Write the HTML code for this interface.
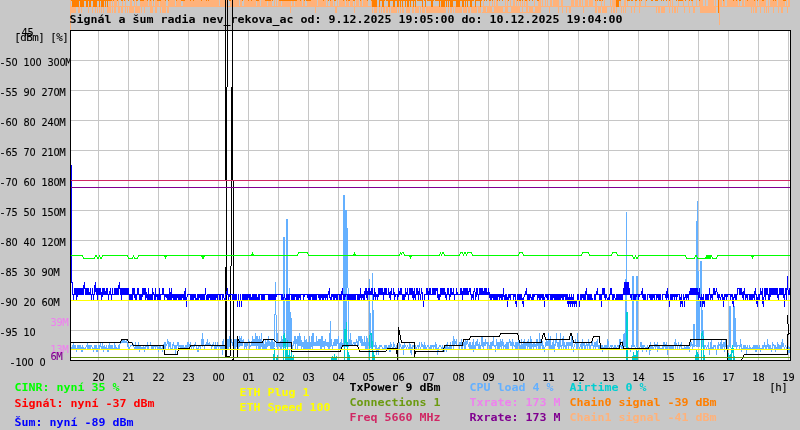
<!DOCTYPE html>
<html lang="cs">
<head>
<meta charset="utf-8">
<title>Signál a šum radia nev_rekova_ac</title>
<style>
html,body{margin:0;padding:0;background:#c8c8c8;overflow:hidden}
svg{display:block;will-change:transform}
text{font-family:"DejaVu Sans Mono","Liberation Mono",monospace;white-space:pre}
text.b{font-weight:bold;font-size:11px}
text.s{font-size:10.8px;stroke-width:.1px}
tspan.d{font-family:"DejaVu Sans","Liberation Sans",sans-serif;font-stretch:condensed}
</style>
</head>
<body>
<svg width="800" height="430" viewBox="0 0 800 430" shape-rendering="crispEdges">
<rect width="800" height="430" fill="#c8c8c8"/>
<g shape-rendering="auto"><text class="s" x="2.5 8.5 14.5 20.5 26.5 32.5 38.5 44.5 50.5 56.5 62.5 68.5" y="66" text-anchor="middle" stroke="#000">-<tspan class="d">50</tspan> <tspan class="d">100</tspan> <tspan class="d">300</tspan>M</text><text class="s" x="2.5 8.5 14.5 20.5 26.5 32.5 38.5 44.5 50.5 56.5 62.5" y="96" text-anchor="middle" stroke="#000">-<tspan class="d">55</tspan> <tspan class="d">90</tspan> <tspan class="d">270</tspan>M</text><text class="s" x="2.5 8.5 14.5 20.5 26.5 32.5 38.5 44.5 50.5 56.5 62.5" y="126" text-anchor="middle" stroke="#000">-<tspan class="d">60</tspan> <tspan class="d">80</tspan> <tspan class="d">240</tspan>M</text><text class="s" x="2.5 8.5 14.5 20.5 26.5 32.5 38.5 44.5 50.5 56.5 62.5" y="156" text-anchor="middle" stroke="#000">-<tspan class="d">65</tspan> <tspan class="d">70</tspan> <tspan class="d">210</tspan>M</text><text class="s" x="2.5 8.5 14.5 20.5 26.5 32.5 38.5 44.5 50.5 56.5 62.5" y="186" text-anchor="middle" stroke="#000">-<tspan class="d">70</tspan> <tspan class="d">60</tspan> <tspan class="d">180</tspan>M</text><text class="s" x="2.5 8.5 14.5 20.5 26.5 32.5 38.5 44.5 50.5 56.5 62.5" y="216" text-anchor="middle" stroke="#000">-<tspan class="d">75</tspan> <tspan class="d">50</tspan> <tspan class="d">150</tspan>M</text><text class="s" x="2.5 8.5 14.5 20.5 26.5 32.5 38.5 44.5 50.5 56.5 62.5" y="246" text-anchor="middle" stroke="#000">-<tspan class="d">80</tspan> <tspan class="d">40</tspan> <tspan class="d">120</tspan>M</text><text class="s" x="2.5 8.5 14.5 20.5 26.5 32.5 38.5 44.5 50.5 56.5" y="276" text-anchor="middle" stroke="#000">-<tspan class="d">85</tspan> <tspan class="d">30</tspan> <tspan class="d">90</tspan>M</text><text class="s" x="2.5 8.5 14.5 20.5 26.5 32.5 38.5 44.5 50.5 56.5" y="306" text-anchor="middle" stroke="#000">-<tspan class="d">90</tspan> <tspan class="d">20</tspan> <tspan class="d">60</tspan>M</text><text class="s" x="2.5 8.5 14.5 20.5 26.5 32.5" y="336" text-anchor="middle" stroke="#000">-<tspan class="d">95</tspan> <tspan class="d">10</tspan></text><text class="s" x="12.5 18.5 24.5 30.5 36.5 42.5" y="366" text-anchor="middle" stroke="#000">-<tspan class="d">100</tspan> <tspan class="d">0</tspan></text></g>
<rect x="70" y="30" width="721" height="331" fill="#ffffff"/>
<path fill="#c6c6c6" d="M98 31h1v329h-1zM128 31h1v329h-1zM158 31h1v329h-1zM188 31h1v329h-1zM218 31h1v329h-1zM248 31h1v329h-1zM278 31h1v329h-1zM308 31h1v329h-1zM338 31h1v329h-1zM368 31h1v329h-1zM398 31h1v329h-1zM428 31h1v329h-1zM458 31h1v329h-1zM488 31h1v329h-1zM518 31h1v329h-1zM548 31h1v329h-1zM578 31h1v329h-1zM608 31h1v329h-1zM638 31h1v329h-1zM668 31h1v329h-1zM698 31h1v329h-1zM728 31h1v329h-1zM758 31h1v329h-1zM788 31h1v329h-1zM71 60h719v1h-719zM71 90h719v1h-719zM71 120h719v1h-719zM71 150h719v1h-719zM71 180h719v1h-719zM71 210h719v1h-719zM71 240h719v1h-719zM71 270h719v1h-719zM71 300h719v1h-719zM71 330h719v1h-719z"/>
<path fill="#000" d="M70 30h721v1h-721zM70 360h721v1h-721zM70 30h1v331h-1zM790 30h1v331h-1z"/>
<path fill="#ffb27a" d="M70 0v30h1v-30zM71 6v7h1v-7zM72 6v7h1v-7zM73 6v7h1v-7zM74 6v7h1v-7zM75 6v7h1v-7zM76 6v1h1v-1zM77 6v1h1v-1zM78 6v7h1v-7zM79 6v7h1v-7zM80 6v1h1v-1zM81 6v7h1v-7zM82 6v1h1v-1zM83 6v1h1v-1zM84 6v1h1v-1zM85 6v1h1v-1zM86 6v1h1v-1zM87 6v1h1v-1zM88 6v7h1v-7zM89 6v1h1v-1zM90 6v1h1v-1zM91 6v1h1v-1zM92 6v7h1v-7zM93 6v1h1v-1zM94 6v1h1v-1zM95 6v7h1v-7zM96 6v1h1v-1zM97 6v7h1v-7zM98 6v1h1v-1zM99 6v7h1v-7zM100 6v1h1v-1zM101 6v7h1v-7zM102 6v1h1v-1zM103 6v7h1v-7zM104 6v1h1v-1zM105 6v1h1v-1zM106 6v1h1v-1zM107 6v7h1v-7zM108 6v7h1v-7zM109 0v13h1v-13zM110 0v13h1v-13zM111 6v1h1v-1zM112 0v13h1v-13zM113 6v1h1v-1zM114 0v13h1v-13zM115 0v13h1v-13zM116 0v7h1v-7zM117 6v1h1v-1zM118 0v13h1v-13zM119 6v7h1v-7zM120 6v1h1v-1zM121 6v7h1v-7zM122 0v13h1v-13zM123 6v1h1v-1zM124 6v1h1v-1zM125 0v13h1v-13zM126 6v1h1v-1zM127 6v7h1v-7zM128 6v1h1v-1zM129 6v7h1v-7zM130 0v13h1v-13zM131 0v13h1v-13zM132 6v7h1v-7zM133 6v7h1v-7zM134 0v7h1v-7zM135 6v7h1v-7zM136 0v13h1v-13zM137 6v7h1v-7zM138 6v7h1v-7zM139 6v7h1v-7zM140 0v7h1v-7zM141 0v13h1v-13zM142 0v7h1v-7zM143 0v7h1v-7zM144 0v13h1v-13zM145 0v7h1v-7zM146 0v7h1v-7zM147 0v7h1v-7zM148 6v1h1v-1zM149 0v7h1v-7zM150 0v13h1v-13zM151 0v13h1v-13zM152 6v7h1v-7zM153 0v7h1v-7zM154 6v1h1v-1zM155 0v13h1v-13zM156 0v13h1v-13zM157 0v7h1v-7zM158 0v7h1v-7zM159 6v1h1v-1zM160 0v13h1v-13zM161 0v7h1v-7zM162 0v13h1v-13zM163 0v13h1v-13zM164 0v13h1v-13zM165 0v13h1v-13zM166 6v1h1v-1zM167 6v7h1v-7zM168 0v13h1v-13zM169 0v7h1v-7zM170 0v7h1v-7zM171 0v7h1v-7zM172 0v7h1v-7zM173 0v7h1v-7zM174 0v7h1v-7zM175 6v1h1v-1zM176 0v7h1v-7zM177 0v7h1v-7zM178 0v7h1v-7zM179 0v7h1v-7zM180 0v7h1v-7zM181 6v1h1v-1zM182 6v1h1v-1zM183 0v7h1v-7zM184 0v7h1v-7zM185 0v7h1v-7zM186 0v7h1v-7zM187 0v7h1v-7zM188 0v7h1v-7zM189 0v7h1v-7zM190 0v7h1v-7zM191 0v7h1v-7zM192 0v7h1v-7zM193 0v7h1v-7zM194 0v7h1v-7zM195 0v7h1v-7zM196 0v7h1v-7zM197 0v7h1v-7zM198 0v7h1v-7zM199 0v7h1v-7zM200 0v7h1v-7zM201 0v7h1v-7zM202 0v7h1v-7zM203 0v7h1v-7zM204 0v7h1v-7zM205 0v7h1v-7zM206 0v7h1v-7zM207 0v7h1v-7zM208 0v7h1v-7zM209 0v7h1v-7zM210 0v7h1v-7zM211 0v7h1v-7zM212 0v7h1v-7zM213 0v7h1v-7zM214 0v7h1v-7zM215 0v7h1v-7zM216 0v7h1v-7zM217 0v7h1v-7zM218 0v7h1v-7zM219 6v1h1v-1zM220 0v7h1v-7zM221 0v7h1v-7zM222 0v7h1v-7zM223 0v7h1v-7zM224 0v7h1v-7zM225 0v7h1v-7zM226 0v7h1v-7zM227 0v7h1v-7zM228 6v1h1v-1zM229 6v1h1v-1zM230 0v7h1v-7zM231 0v7h1v-7zM232 0v7h1v-7zM233 0v7h1v-7zM234 0v7h1v-7zM235 0v7h1v-7zM236 0v7h1v-7zM237 0v7h1v-7zM238 0v7h1v-7zM239 6v1h1v-1zM240 0v7h1v-7zM241 0v7h1v-7zM242 6v1h1v-1zM243 6v1h1v-1zM244 0v7h1v-7zM245 0v7h1v-7zM246 0v7h1v-7zM247 0v7h1v-7zM248 0v7h1v-7zM249 0v7h1v-7zM250 0v7h1v-7zM251 0v7h1v-7zM252 0v7h1v-7zM253 0v7h1v-7zM254 0v7h1v-7zM255 0v7h1v-7zM256 6v1h1v-1zM257 0v7h1v-7zM258 0v7h1v-7zM259 0v7h1v-7zM260 6v1h1v-1zM261 0v7h1v-7zM262 0v7h1v-7zM263 0v7h1v-7zM264 0v7h1v-7zM265 0v7h1v-7zM266 0v7h1v-7zM267 6v1h1v-1zM268 0v7h1v-7zM269 0v7h1v-7zM270 0v7h1v-7zM271 0v7h1v-7zM272 6v1h1v-1zM273 6v1h1v-1zM274 0v7h1v-7zM275 6v1h1v-1zM276 0v7h1v-7zM277 6v1h1v-1zM278 0v7h1v-7zM279 0v7h1v-7zM280 0v7h1v-7zM281 6v1h1v-1zM282 0v7h1v-7zM283 0v7h1v-7zM284 0v7h1v-7zM285 0v7h1v-7zM286 0v7h1v-7zM287 0v7h1v-7zM288 0v7h1v-7zM289 0v7h1v-7zM290 0v13h1v-13zM291 6v1h1v-1zM292 0v7h1v-7zM293 0v7h1v-7zM294 6v1h1v-1zM295 0v7h1v-7zM296 0v7h1v-7zM297 0v7h1v-7zM298 0v7h1v-7zM299 0v7h1v-7zM300 0v7h1v-7zM301 0v7h1v-7zM302 6v1h1v-1zM303 0v7h1v-7zM304 0v7h1v-7zM305 6v1h1v-1zM306 6v1h1v-1zM307 0v7h1v-7zM308 0v7h1v-7zM309 0v7h1v-7zM310 0v7h1v-7zM311 0v7h1v-7zM312 0v7h1v-7zM313 0v7h1v-7zM314 0v7h1v-7zM315 0v13h1v-13zM316 0v7h1v-7zM317 6v1h1v-1zM318 0v7h1v-7zM319 0v7h1v-7zM320 0v7h1v-7zM321 0v7h1v-7zM322 0v7h1v-7zM323 0v7h1v-7zM324 0v7h1v-7zM325 0v7h1v-7zM326 6v1h1v-1zM327 0v7h1v-7zM328 6v1h1v-1zM329 6v1h1v-1zM330 0v7h1v-7zM331 0v7h1v-7zM332 0v7h1v-7zM333 6v1h1v-1zM334 0v7h1v-7zM335 6v7h1v-7zM336 6v7h1v-7zM337 0v7h1v-7zM338 6v1h1v-1zM339 0v7h1v-7zM340 0v7h1v-7zM341 0v7h1v-7zM342 0v7h1v-7zM343 0v7h1v-7zM344 0v7h1v-7zM345 6v1h1v-1zM346 0v7h1v-7zM347 0v7h1v-7zM348 0v7h1v-7zM349 6v1h1v-1zM350 0v7h1v-7zM351 0v7h1v-7zM352 0v7h1v-7zM353 6v1h1v-1zM354 0v13h1v-13zM355 6v1h1v-1zM356 0v7h1v-7zM357 0v7h1v-7zM358 0v7h1v-7zM359 6v1h1v-1zM360 0v7h1v-7zM361 0v7h1v-7zM362 6v1h1v-1zM363 0v7h1v-7zM364 0v7h1v-7zM365 0v7h1v-7zM366 0v7h1v-7zM367 0v7h1v-7zM368 6v1h1v-1zM369 6v1h1v-1zM370 6v1h1v-1zM371 0v7h1v-7zM372 6v7h1v-7zM373 6v1h1v-1zM374 6v7h1v-7zM375 6v7h1v-7zM376 6v7h1v-7zM377 6v1h1v-1zM378 6v1h1v-1zM379 6v7h1v-7zM380 6v1h1v-1zM381 6v7h1v-7zM382 6v1h1v-1zM383 6v7h1v-7zM384 6v7h1v-7zM385 6v1h1v-1zM386 6v7h1v-7zM387 6v7h1v-7zM388 6v1h1v-1zM389 6v7h1v-7zM390 6v1h1v-1zM391 6v7h1v-7zM392 6v7h1v-7zM393 6v7h1v-7zM394 6v7h1v-7zM395 6v7h1v-7zM396 6v7h1v-7zM397 6v1h1v-1zM398 6v7h1v-7zM399 6v1h1v-1zM400 6v7h1v-7zM401 6v1h1v-1zM402 6v7h1v-7zM403 6v7h1v-7zM404 6v1h1v-1zM405 6v1h1v-1zM406 6v7h1v-7zM407 6v7h1v-7zM408 6v7h1v-7zM409 6v7h1v-7zM410 6v1h1v-1zM411 6v1h1v-1zM412 6v7h1v-7zM413 6v7h1v-7zM414 6v1h1v-1zM415 6v7h1v-7zM416 6v7h1v-7zM417 6v7h1v-7zM418 6v7h1v-7zM419 6v1h1v-1zM420 6v7h1v-7zM421 6v1h1v-1zM422 6v7h1v-7zM423 6v7h1v-7zM424 6v7h1v-7zM425 6v1h1v-1zM426 6v7h1v-7zM427 6v7h1v-7zM428 6v7h1v-7zM429 6v7h1v-7zM430 6v7h1v-7zM431 6v7h1v-7zM432 6v7h1v-7zM433 6v7h1v-7zM434 6v7h1v-7zM435 6v7h1v-7zM436 6v7h1v-7zM437 6v7h1v-7zM438 6v7h1v-7zM439 6v7h1v-7zM440 6v7h1v-7zM441 6v7h1v-7zM442 6v7h1v-7zM443 6v7h1v-7zM444 6v7h1v-7zM445 6v7h1v-7zM446 6v1h1v-1zM447 6v1h1v-1zM448 6v7h1v-7zM449 6v1h1v-1zM450 6v7h1v-7zM451 6v7h1v-7zM452 6v1h1v-1zM453 6v7h1v-7zM454 6v1h1v-1zM455 6v7h1v-7zM456 6v7h1v-7zM457 6v7h1v-7zM458 6v7h1v-7zM459 6v7h1v-7zM460 6v7h1v-7zM461 6v7h1v-7zM462 6v1h1v-1zM463 6v7h1v-7zM464 6v7h1v-7zM465 6v7h1v-7zM466 6v7h1v-7zM467 6v1h1v-1zM468 6v7h1v-7zM469 6v7h1v-7zM470 6v1h1v-1zM471 6v7h1v-7zM472 6v7h1v-7zM473 6v7h1v-7zM474 6v7h1v-7zM475 6v7h1v-7zM476 6v7h1v-7zM477 6v1h1v-1zM478 6v7h1v-7zM479 6v7h1v-7zM480 6v7h1v-7zM481 6v1h1v-1zM482 6v1h1v-1zM482 12v1h1v-1zM483 0v13h1v-13zM484 6v7h1v-7zM485 6v7h1v-7zM486 6v1h1v-1zM486 12v1h1v-1zM487 6v7h1v-7zM488 6v7h1v-7zM489 0v13h1v-13zM490 6v7h1v-7zM491 6v7h1v-7zM492 0v7h1v-7zM492 12v1h1v-1zM493 6v1h1v-1zM493 12v1h1v-1zM494 0v13h1v-13zM495 6v7h1v-7zM496 0v13h1v-13zM497 0v13h1v-13zM498 6v7h1v-7zM499 6v7h1v-7zM500 6v7h1v-7zM501 6v7h1v-7zM502 6v7h1v-7zM503 6v1h1v-1zM503 12v1h1v-1zM504 6v1h1v-1zM504 12v1h1v-1zM505 0v13h1v-13zM506 6v7h1v-7zM507 0v13h1v-13zM508 6v1h1v-1zM508 12v1h1v-1zM509 6v1h1v-1zM509 12v1h1v-1zM510 0v7h1v-7zM510 12v1h1v-1zM511 6v7h1v-7zM512 6v7h1v-7zM513 0v13h1v-13zM514 0v13h1v-13zM515 6v7h1v-7zM516 0v13h1v-13zM517 6v7h1v-7zM518 0v13h1v-13zM519 6v7h1v-7zM520 0v7h1v-7zM520 12v1h1v-1zM521 6v1h1v-1zM521 12v1h1v-1zM522 0v13h1v-13zM523 6v1h1v-1zM523 12v1h1v-1zM524 0v7h1v-7zM524 12v1h1v-1zM525 6v1h1v-1zM525 12v1h1v-1zM526 0v13h1v-13zM527 0v13h1v-13zM528 6v1h1v-1zM528 12v1h1v-1zM529 6v7h1v-7zM530 6v7h1v-7zM531 6v7h1v-7zM532 6v7h1v-7zM533 6v1h1v-1zM533 12v1h1v-1zM534 0v7h1v-7zM534 12v1h1v-1zM535 6v7h1v-7zM536 6v7h1v-7zM537 6v7h1v-7zM538 0v13h1v-13zM539 0v13h1v-13zM540 0v13h1v-13zM541 6v1h1v-1zM542 0v7h1v-7zM543 6v1h1v-1zM544 6v1h1v-1zM545 0v7h1v-7zM546 6v1h1v-1zM547 0v7h1v-7zM548 6v1h1v-1zM549 6v7h1v-7zM550 0v7h1v-7zM551 0v7h1v-7zM552 6v1h1v-1zM553 0v7h1v-7zM554 0v7h1v-7zM555 0v7h1v-7zM556 0v7h1v-7zM557 0v7h1v-7zM558 0v13h1v-13zM559 6v1h1v-1zM560 6v1h1v-1zM561 0v7h1v-7zM562 0v13h1v-13zM563 6v1h1v-1zM564 6v1h1v-1zM565 6v1h1v-1zM566 6v7h1v-7zM567 6v1h1v-1zM568 6v1h1v-1zM569 6v7h1v-7zM570 6v7h1v-7zM571 0v7h1v-7zM572 0v7h1v-7zM573 0v7h1v-7zM574 6v1h1v-1zM575 0v7h1v-7zM576 0v7h1v-7zM577 0v7h1v-7zM578 6v1h1v-1zM579 0v7h1v-7zM580 0v7h1v-7zM581 6v1h1v-1zM582 0v7h1v-7zM583 6v7h1v-7zM584 6v1h1v-1zM585 0v7h1v-7zM586 0v7h1v-7zM587 0v7h1v-7zM588 6v1h1v-1zM589 0v7h1v-7zM590 0v7h1v-7zM591 0v7h1v-7zM592 0v7h1v-7zM593 6v1h1v-1zM594 6v1h1v-1zM595 0v13h1v-13zM596 0v13h1v-13zM597 6v1h1v-1zM598 6v7h1v-7zM599 6v7h1v-7zM600 6v7h1v-7zM601 0v7h1v-7zM602 6v7h1v-7zM603 6v7h1v-7zM604 0v13h1v-13zM605 6v7h1v-7zM606 6v7h1v-7zM607 6v1h1v-1zM608 6v1h1v-1zM609 6v1h1v-1zM610 0v7h1v-7zM611 6v7h1v-7zM612 0v7h1v-7zM613 0v13h1v-13zM614 0v13h1v-13zM615 0v7h1v-7zM616 0v13h1v-13zM617 0v7h1v-7zM618 0v7h1v-7zM619 6v1h1v-1zM620 0v7h1v-7zM621 6v7h1v-7zM622 6v1h1v-1zM623 6v7h1v-7zM624 0v7h1v-7zM625 0v13h1v-13zM626 6v1h1v-1zM627 0v7h1v-7zM628 6v1h1v-1zM629 6v1h1v-1zM630 6v1h1v-1zM631 6v7h1v-7zM632 6v1h1v-1zM633 6v1h1v-1zM634 6v7h1v-7zM635 0v7h1v-7zM636 6v1h1v-1zM637 6v1h1v-1zM638 6v1h1v-1zM639 0v13h1v-13zM640 0v7h1v-7zM641 6v1h1v-1zM642 6v1h1v-1zM643 6v1h1v-1zM644 6v1h1v-1zM645 0v7h1v-7zM646 6v1h1v-1zM647 6v1h1v-1zM648 6v1h1v-1zM649 6v1h1v-1zM650 6v1h1v-1zM651 6v1h1v-1zM652 6v1h1v-1zM653 6v1h1v-1zM654 6v1h1v-1zM655 6v1h1v-1zM656 6v7h1v-7zM657 6v1h1v-1zM658 6v7h1v-7zM659 6v7h1v-7zM660 6v1h1v-1zM661 6v7h1v-7zM662 6v7h1v-7zM663 6v7h1v-7zM664 6v7h1v-7zM665 6v1h1v-1zM666 6v1h1v-1zM667 6v1h1v-1zM668 0v7h1v-7zM669 6v7h1v-7zM670 0v7h1v-7zM671 6v1h1v-1zM672 0v13h1v-13zM673 6v1h1v-1zM674 6v7h1v-7zM675 6v7h1v-7zM676 6v1h1v-1zM677 6v7h1v-7zM678 0v7h1v-7zM679 6v1h1v-1zM680 6v1h1v-1zM681 6v1h1v-1zM682 6v1h1v-1zM683 0v7h1v-7zM684 6v7h1v-7zM685 6v1h1v-1zM686 6v1h1v-1zM687 6v1h1v-1zM688 0v7h1v-7zM689 6v7h1v-7zM690 6v1h1v-1zM691 6v1h1v-1zM692 0v7h1v-7zM693 6v7h1v-7zM694 6v7h1v-7zM695 6v1h1v-1zM696 0v7h1v-7zM697 6v1h1v-1zM698 6v1h1v-1zM699 0v7h1v-7zM700 0v13h1v-13zM701 0v13h1v-13zM702 0v13h1v-13zM703 6v7h1v-7zM704 6v7h1v-7zM705 0v13h1v-13zM706 6v7h1v-7zM707 6v7h1v-7zM708 0v13h1v-13zM709 0v13h1v-13zM710 0v13h1v-13zM711 0v13h1v-13zM712 0v13h1v-13zM713 0v13h1v-13zM714 6v7h1v-7zM715 0v13h1v-13zM716 6v1h1v-1zM717 6v1h1v-1zM718 6v1h1v-1zM719 0v25h1v-25zM720 0v7h1v-7zM721 0v7h1v-7zM722 6v1h1v-1zM723 0v7h1v-7zM724 0v7h1v-7zM725 6v1h1v-1zM726 6v1h1v-1zM727 0v7h1v-7zM728 0v7h1v-7zM729 0v7h1v-7zM730 0v7h1v-7zM731 0v7h1v-7zM732 0v7h1v-7zM733 0v7h1v-7zM734 0v7h1v-7zM735 0v7h1v-7zM736 0v7h1v-7zM737 0v7h1v-7zM738 6v1h1v-1zM739 0v7h1v-7zM740 6v1h1v-1zM741 6v1h1v-1zM742 0v7h1v-7zM743 0v7h1v-7zM744 6v1h1v-1zM745 0v7h1v-7zM746 0v7h1v-7zM747 0v7h1v-7zM748 0v7h1v-7zM749 0v7h1v-7zM750 0v7h1v-7zM751 0v13h1v-13zM752 0v7h1v-7zM753 0v13h1v-13zM754 0v7h1v-7zM755 0v13h1v-13zM756 6v7h1v-7zM757 0v7h1v-7zM758 6v1h1v-1zM759 0v7h1v-7zM760 0v13h1v-13zM761 0v7h1v-7zM762 0v7h1v-7zM763 0v7h1v-7zM764 0v13h1v-13zM765 0v7h1v-7zM766 6v7h1v-7zM767 6v1h1v-1zM768 0v13h1v-13zM769 6v1h1v-1zM770 0v7h1v-7zM771 0v7h1v-7zM772 0v7h1v-7zM773 0v13h1v-13zM774 0v7h1v-7zM775 0v7h1v-7zM776 0v7h1v-7zM777 6v1h1v-1zM778 0v13h1v-13zM779 0v7h1v-7zM780 0v7h1v-7zM781 0v13h1v-13zM782 0v13h1v-13zM783 0v7h1v-7zM784 0v7h1v-7zM785 6v1h1v-1zM786 0v7h1v-7zM787 6v7h1v-7zM788 0v7h1v-7zM789 0v7h1v-7z"/>
<path fill="#ff7f00" d="M71 0v1h1v-1zM72 0v7h1v-7zM73 0v7h1v-7zM74 0v7h1v-7zM75 0v7h1v-7zM76 0v7h1v-7zM77 0v7h1v-7zM78 0v7h1v-7zM79 0v1h1v-1zM80 0v7h1v-7zM81 0v7h1v-7zM82 0v7h1v-7zM83 0v7h1v-7zM84 0v1h1v-1zM85 0v1h1v-1zM86 0v7h1v-7zM87 0v7h1v-7zM88 0v1h1v-1zM89 0v7h1v-7zM90 0v7h1v-7zM91 0v1h1v-1zM92 0v1h1v-1zM93 0v7h1v-7zM94 0v7h1v-7zM95 0v7h1v-7zM96 0v7h1v-7zM97 0v1h1v-1zM98 0v1h1v-1zM99 0v7h1v-7zM100 0v1h1v-1zM101 0v7h1v-7zM102 0v7h1v-7zM103 0v7h1v-7zM104 0v1h1v-1zM105 0v7h1v-7zM106 0v1h1v-1zM107 0v7h1v-7zM108 0v1h1v-1zM109 0v1h1v-1zM110 0v1h1v-1zM111 0v1h1v-1zM113 0v1h1v-1zM117 0v1h1v-1zM121 0v1h1v-1zM122 0v1h1v-1zM124 0v1h1v-1zM128 0v1h1v-1zM133 0v1h1v-1zM136 0v1h1v-1zM137 0v1h1v-1zM140 0v1h1v-1zM141 0v1h1v-1zM142 0v1h1v-1zM143 0v1h1v-1zM147 0v1h1v-1zM150 0v1h1v-1zM153 0v1h1v-1zM157 0v1h1v-1zM158 0v1h1v-1zM159 0v1h1v-1zM160 0v1h1v-1zM165 0v1h1v-1zM168 0v1h1v-1zM176 0v1h1v-1zM181 0v1h1v-1zM182 0v1h1v-1zM183 0v1h1v-1zM184 0v1h1v-1zM190 0v1h1v-1zM193 0v1h1v-1zM201 0v1h1v-1zM206 0v1h1v-1zM208 0v1h1v-1zM227 0v1h1v-1zM229 0v1h1v-1zM230 0v1h1v-1zM242 0v1h1v-1zM248 0v1h1v-1zM251 0v1h1v-1zM256 0v1h1v-1zM257 0v1h1v-1zM258 0v1h1v-1zM265 0v1h1v-1zM266 0v1h1v-1zM267 0v1h1v-1zM268 0v1h1v-1zM269 0v1h1v-1zM270 0v1h1v-1zM272 0v1h1v-1zM279 0v1h1v-1zM280 0v1h1v-1zM281 0v1h1v-1zM282 0v1h1v-1zM283 0v1h1v-1zM284 0v1h1v-1zM285 0v1h1v-1zM286 0v1h1v-1zM287 0v1h1v-1zM288 0v1h1v-1zM289 0v1h1v-1zM290 0v1h1v-1zM291 0v1h1v-1zM292 0v1h1v-1zM293 0v1h1v-1zM294 0v1h1v-1zM295 0v1h1v-1zM296 0v1h1v-1zM300 0v1h1v-1zM304 0v1h1v-1zM306 0v1h1v-1zM307 0v1h1v-1zM308 0v1h1v-1zM309 0v1h1v-1zM310 0v1h1v-1zM323 0v1h1v-1zM328 0v1h1v-1zM330 0v1h1v-1zM334 0v1h1v-1zM335 0v1h1v-1zM343 0v1h1v-1zM346 0v1h1v-1zM348 0v1h1v-1zM349 0v1h1v-1zM353 0v1h1v-1zM354 0v1h1v-1zM360 0v1h1v-1zM367 0v1h1v-1zM371 0v1h1v-1zM372 0v7h1v-7zM373 0v7h1v-7zM374 0v7h1v-7zM375 0v7h1v-7zM376 0v7h1v-7zM379 0v7h1v-7zM380 0v1h1v-1zM381 0v1h1v-1zM382 0v7h1v-7zM383 0v7h1v-7zM384 0v1h1v-1zM386 0v1h1v-1zM387 0v1h1v-1zM388 0v7h1v-7zM389 0v7h1v-7zM390 0v1h1v-1zM391 0v1h1v-1zM392 0v1h1v-1zM393 0v7h1v-7zM394 0v7h1v-7zM395 0v1h1v-1zM396 0v1h1v-1zM397 0v7h1v-7zM398 0v7h1v-7zM399 0v1h1v-1zM400 0v7h1v-7zM401 0v1h1v-1zM402 0v7h1v-7zM403 0v1h1v-1zM404 0v1h1v-1zM405 0v7h1v-7zM406 0v1h1v-1zM407 0v7h1v-7zM408 0v7h1v-7zM409 0v1h1v-1zM410 0v7h1v-7zM411 0v1h1v-1zM412 0v1h1v-1zM413 0v7h1v-7zM414 0v1h1v-1zM415 0v7h1v-7zM417 0v1h1v-1zM418 0v1h1v-1zM419 0v1h1v-1zM420 0v1h1v-1zM421 0v1h1v-1zM422 0v7h1v-7zM424 0v1h1v-1zM425 0v7h1v-7zM427 0v1h1v-1zM428 0v1h1v-1zM429 0v1h1v-1zM430 0v1h1v-1zM431 0v7h1v-7zM432 0v7h1v-7zM433 0v1h1v-1zM435 0v1h1v-1zM436 0v1h1v-1zM437 0v1h1v-1zM438 0v1h1v-1zM439 0v7h1v-7zM440 0v1h1v-1zM441 0v7h1v-7zM442 0v7h1v-7zM443 0v7h1v-7zM444 0v7h1v-7zM445 0v1h1v-1zM446 0v7h1v-7zM447 0v1h1v-1zM448 0v7h1v-7zM449 0v1h1v-1zM450 0v7h1v-7zM451 0v7h1v-7zM452 0v7h1v-7zM453 0v1h1v-1zM454 0v1h1v-1zM455 0v1h1v-1zM456 0v7h1v-7zM457 0v7h1v-7zM458 0v7h1v-7zM459 0v7h1v-7zM460 0v1h1v-1zM461 0v1h1v-1zM462 0v7h1v-7zM463 0v7h1v-7zM464 0v1h1v-1zM465 0v7h1v-7zM466 0v1h1v-1zM467 0v7h1v-7zM468 0v1h1v-1zM469 0v1h1v-1zM470 0v7h1v-7zM471 0v7h1v-7zM472 0v1h1v-1zM473 0v1h1v-1zM475 0v7h1v-7zM476 0v1h1v-1zM477 0v1h1v-1zM478 0v1h1v-1zM479 0v1h1v-1zM480 0v7h1v-7zM481 0v1h1v-1zM484 0v1h1v-1zM486 0v1h1v-1zM489 0v1h1v-1zM490 0v1h1v-1zM492 0v1h1v-1zM497 0v1h1v-1zM499 0v1h1v-1zM502 0v1h1v-1zM508 0v1h1v-1zM517 0v1h1v-1zM519 0v1h1v-1zM520 0v1h1v-1zM522 0v1h1v-1zM525 0v1h1v-1zM526 0v1h1v-1zM529 0v1h1v-1zM532 0v1h1v-1zM537 0v1h1v-1zM538 0v1h1v-1zM595 0v1h1v-1zM597 0v1h1v-1zM599 0v1h1v-1zM600 0v1h1v-1zM602 0v1h1v-1zM616 0v7h1v-7zM617 0v7h1v-7zM618 0v7h1v-7zM619 0v1h1v-1zM620 0v1h1v-1zM627 0v1h1v-1zM628 0v1h1v-1zM629 0v1h1v-1zM631 0v1h1v-1zM632 0v1h1v-1zM635 0v1h1v-1zM636 0v1h1v-1zM639 0v1h1v-1zM641 0v1h1v-1zM646 0v1h1v-1zM651 0v1h1v-1zM652 0v1h1v-1zM655 0v1h1v-1zM656 0v1h1v-1zM657 0v1h1v-1zM661 0v1h1v-1zM663 0v1h1v-1zM666 0v1h1v-1zM669 0v1h1v-1zM676 0v1h1v-1zM678 0v1h1v-1zM679 0v1h1v-1zM680 0v1h1v-1zM681 0v1h1v-1zM682 0v1h1v-1zM685 0v1h1v-1zM689 0v1h1v-1zM691 0v1h1v-1zM692 0v1h1v-1zM699 0v1h1v-1zM718 0v13h1v-13zM723 0v1h1v-1zM733 0v1h1v-1zM736 0v1h1v-1zM739 0v1h1v-1zM740 0v1h1v-1zM747 0v1h1v-1zM754 0v1h1v-1zM757 0v1h1v-1zM762 0v1h1v-1zM763 0v1h1v-1zM773 0v1h1v-1zM775 0v1h1v-1zM783 0v1h1v-1zM784 0v1h1v-1zM785 0v1h1v-1z"/>
<path fill="#64b0ff" d="M71 347v2h1v-2zM72 345v4h1v-4zM73 342v7h1v-7zM74 345v4h1v-4zM75 345v4h1v-4zM76 348v4h1v-4zM77 345v5h1v-5zM78 345v4h1v-4zM79 345v4h1v-4zM80 345v4h1v-4zM81 347v5h1v-5zM82 345v7h1v-7zM83 347v2h1v-2zM84 348v1h1v-1zM85 347v2h1v-2zM86 345v2h1v-2zM87 342v7h1v-7zM88 345v4h1v-4zM89 345v4h1v-4zM90 345v4h1v-4zM91 345v2h1v-2zM92 347v2h1v-2zM93 348v4h1v-4zM94 345v5h1v-5zM95 345v4h1v-4zM96 345v7h1v-7zM97 348v4h1v-4zM98 345v5h1v-5zM99 345v4h1v-4zM100 342v5h1v-5zM101 346v3h1v-3zM102 342v7h1v-7zM103 346v6h1v-6zM104 345v5h1v-5zM105 347v2h1v-2zM106 345v4h1v-4zM107 348v4h1v-4zM108 345v7h1v-7zM109 342v7h1v-7zM110 345v4h1v-4zM111 345v4h1v-4zM112 345v4h1v-4zM113 348v1h1v-1zM114 342v7h1v-7zM115 345v4h1v-4zM116 347v2h1v-2zM117 348v1h1v-1zM118 345v4h1v-4zM119 344v5h1v-5zM120 342v2h1v-2zM121 341v2h1v-2zM122 339v4h1v-4zM123 339v4h1v-4zM124 339v4h1v-4zM125 341v2h1v-2zM126 339v4h1v-4zM127 342v5h1v-5zM128 345v4h1v-4zM129 347v2h1v-2zM130 345v2h1v-2zM131 345v1h1v-1zM132 342v4h1v-4zM133 344v3h1v-3zM134 347v2h1v-2zM135 342v7h1v-7zM136 346v3h1v-3zM137 345v4h1v-4zM138 342v7h1v-7zM139 345v7h1v-7zM140 345v5h1v-5zM141 347v2h1v-2zM142 347v2h1v-2zM143 345v4h1v-4zM144 347v5h1v-5zM145 345v4h1v-4zM146 345v2h1v-2zM147 342v7h1v-7zM148 345v4h1v-4zM149 345v1h1v-1zM150 342v4h1v-4zM151 345v4h1v-4zM152 345v4h1v-4zM153 345v4h1v-4zM154 345v2h1v-2zM155 345v4h1v-4zM156 345v2h1v-2zM157 345v4h1v-4zM158 347v5h1v-5zM159 345v5h1v-5zM160 345v4h1v-4zM161 348v2h1v-2zM162 345v7h1v-7zM163 344v2h1v-2zM164 342v7h1v-7zM165 342v7h1v-7zM166 344v2h1v-2zM167 339v5h1v-5zM168 341v8h1v-8zM169 342v5h1v-5zM170 342v7h1v-7zM171 348v1h1v-1zM172 344v5h1v-5zM173 342v4h1v-4zM174 345v4h1v-4zM175 345v10h1v-10zM176 345v5h1v-5zM177 342v4h1v-4zM178 342v7h1v-7zM179 345v2h1v-2zM180 345v4h1v-4zM181 345v4h1v-4zM182 345v4h1v-4zM183 345v4h1v-4zM184 347v2h1v-2zM185 345v4h1v-4zM186 345v4h1v-4zM187 342v7h1v-7zM188 342v5h1v-5zM189 344v5h1v-5zM190 342v4h1v-4zM191 345v4h1v-4zM192 345v2h1v-2zM193 345v4h1v-4zM194 344v3h1v-3zM195 342v4h1v-4zM196 345v4h1v-4zM197 348v4h1v-4zM198 345v7h1v-7zM199 345v2h1v-2zM200 345v4h1v-4zM201 339v7h1v-7zM202 333v14h1v-14zM203 339v7h1v-7zM204 345v4h1v-4zM205 344v2h1v-2zM206 342v4h1v-4zM207 339v7h1v-7zM208 343v3h1v-3zM209 342v4h1v-4zM210 344v2h1v-2zM211 345v4h1v-4zM212 344v3h1v-3zM213 342v4h1v-4zM214 346v3h1v-3zM215 342v7h1v-7zM216 345v4h1v-4zM217 342v5h1v-5zM218 345v4h1v-4zM219 345v2h1v-2zM220 345v4h1v-4zM221 345v5h1v-5zM222 341v14h1v-14zM223 339v10h1v-10zM224 345v4h1v-4zM225 347v8h1v-8zM226 342v9h1v-9zM227 339v10h1v-10zM228 339v10h1v-10zM229 336v11h1v-11zM230 339v10h1v-10zM231 339v4h1v-4zM232 342v4h1v-4zM233 342v7h1v-7zM234 339v10h1v-10zM235 339v10h1v-10zM236 339v8h1v-8zM237 341v5h1v-5zM238 339v10h1v-10zM239 336v11h1v-11zM240 338v8h1v-8zM241 336v10h1v-10zM242 340v6h1v-6zM243 339v4h1v-4zM244 342v7h1v-7zM245 342v5h1v-5zM246 342v7h1v-7zM247 342v4h1v-4zM248 339v3h1v-3zM249 341v8h1v-8zM250 345v2h1v-2zM251 341v5h1v-5zM252 336v10h1v-10zM253 339v7h1v-7zM254 339v7h1v-7zM255 333v13h1v-13zM256 336v13h1v-13zM257 336v10h1v-10zM258 339v10h1v-10zM259 336v13h1v-13zM260 339v10h1v-10zM261 333v14h1v-14zM262 341v8h1v-8zM263 339v10h1v-10zM264 344v5h1v-5zM265 339v10h1v-10zM266 342v7h1v-7zM267 339v8h1v-8zM268 336v10h1v-10zM269 341v5h1v-5zM270 342v7h1v-7zM271 339v10h1v-10zM272 339v10h1v-10zM273 342v7h1v-7zM274 314v33h1v-33zM275 282v33h1v-33zM276 315v32h1v-32zM277 333v16h1v-16zM278 342v4h1v-4zM279 342v5h1v-5zM280 341v8h1v-8zM281 336v13h1v-13zM282 339v8h1v-8zM283 237v110h1v-110zM284 237v111h1v-111zM285 342v7h1v-7zM286 219v128h1v-128zM287 219v128h1v-128zM288 300v47h1v-47zM289 288v59h1v-59zM290 312v35h1v-35zM291 318v30h1v-30zM292 345v4h1v-4zM293 341v5h1v-5zM294 336v8h1v-8zM295 336v13h1v-13zM296 339v5h1v-5zM297 336v13h1v-13zM298 336v10h1v-10zM299 333v13h1v-13zM300 336v10h1v-10zM301 340v9h1v-9zM302 342v5h1v-5zM303 342v7h1v-7zM304 336v13h1v-13zM305 340v9h1v-9zM306 339v10h1v-10zM307 342v7h1v-7zM308 342v7h1v-7zM309 336v13h1v-13zM310 342v7h1v-7zM311 336v11h1v-11zM312 333v16h1v-16zM313 333v13h1v-13zM314 342v4h1v-4zM315 342v4h1v-4zM316 336v10h1v-10zM317 341v5h1v-5zM318 339v7h1v-7zM319 339v7h1v-7zM320 339v10h1v-10zM321 336v13h1v-13zM322 336v11h1v-11zM323 341v6h1v-6zM324 341v8h1v-8zM325 339v7h1v-7zM326 342v4h1v-4zM327 342v5h1v-5zM328 342v7h1v-7zM329 333v16h1v-16zM330 321v26h1v-26zM331 339v7h1v-7zM332 345v4h1v-4zM333 342v4h1v-4zM334 339v7h1v-7zM335 339v7h1v-7zM336 339v7h1v-7zM337 339v5h1v-5zM338 336v13h1v-13zM339 343v6h1v-6zM340 342v7h1v-7zM341 339v10h1v-10zM342 343v3h1v-3zM343 195v152h1v-152zM344 195v152h1v-152zM345 210v137h1v-137zM346 210v137h1v-137zM347 228v60h1v-60zM348 288v59h1v-59zM349 339v7h1v-7zM350 333v13h1v-13zM351 340v6h1v-6zM352 344v2h1v-2zM353 342v2h1v-2zM354 342v4h1v-4zM355 342v4h1v-4zM356 339v4h1v-4zM357 341v5h1v-5zM358 336v10h1v-10zM359 336v5h1v-5zM360 336v7h1v-7zM361 336v10h1v-10zM362 339v7h1v-7zM363 342v4h1v-4zM364 336v10h1v-10zM365 342v7h1v-7zM366 336v13h1v-13zM367 338v11h1v-11zM368 342v4h1v-4zM369 279v68h1v-68zM370 313v35h1v-35zM371 336v13h1v-13zM372 273v74h1v-74zM373 310v37h1v-37zM374 345v2h1v-2zM375 342v7h1v-7zM376 345v10h1v-10zM377 348v4h1v-4zM378 347v8h1v-8zM379 345v4h1v-4zM380 345v2h1v-2zM381 345v2h1v-2zM382 347v2h1v-2zM383 348v1h1v-1zM384 345v4h1v-4zM385 345v4h1v-4zM386 345v4h1v-4zM387 347v2h1v-2zM388 345v4h1v-4zM389 345v7h1v-7zM390 342v10h1v-10zM391 344v3h1v-3zM392 347v2h1v-2zM393 342v7h1v-7zM394 344v3h1v-3zM395 347v2h1v-2zM396 345v5h1v-5zM397 348v7h1v-7zM398 348v1h1v-1zM399 342v7h1v-7zM400 344v3h1v-3zM401 347v2h1v-2zM402 345v4h1v-4zM403 345v10h1v-10zM404 342v6h1v-6zM405 345v2h1v-2zM406 347v2h1v-2zM407 345v2h1v-2zM408 347v2h1v-2zM409 342v7h1v-7zM410 344v9h1v-9zM411 347v8h1v-8zM412 345v4h1v-4zM413 345v2h1v-2zM414 347v2h1v-2zM415 345v4h1v-4zM416 347v2h1v-2zM417 345v2h1v-2zM418 345v4h1v-4zM419 342v5h1v-5zM420 347v2h1v-2zM421 342v5h1v-5zM422 344v3h1v-3zM423 345v4h1v-4zM424 342v7h1v-7zM425 345v4h1v-4zM426 347v2h1v-2zM427 345v2h1v-2zM428 345v2h1v-2zM429 347v2h1v-2zM430 345v4h1v-4zM431 345v4h1v-4zM432 345v2h1v-2zM433 345v4h1v-4zM434 345v2h1v-2zM435 342v7h1v-7zM436 344v5h1v-5zM437 348v7h1v-7zM438 347v4h1v-4zM439 345v2h1v-2zM440 345v2h1v-2zM441 347v3h1v-3zM442 345v7h1v-7zM443 347v2h1v-2zM444 348v4h1v-4zM445 345v5h1v-5zM446 344v8h1v-8zM447 342v7h1v-7zM448 347v2h1v-2zM449 345v4h1v-4zM450 342v7h1v-7zM451 345v4h1v-4zM452 341v5h1v-5zM453 336v13h1v-13zM454 339v7h1v-7zM455 341v3h1v-3zM456 339v7h1v-7zM457 345v1h1v-1zM458 344v2h1v-2zM459 342v7h1v-7zM460 342v4h1v-4zM461 339v10h1v-10zM462 345v4h1v-4zM463 342v4h1v-4zM464 342v7h1v-7zM465 339v10h1v-10zM466 341v4h1v-4zM467 339v5h1v-5zM468 344v3h1v-3zM469 342v7h1v-7zM470 342v7h1v-7zM471 345v4h1v-4zM472 342v7h1v-7zM473 339v13h1v-13zM474 345v4h1v-4zM475 342v7h1v-7zM476 341v5h1v-5zM477 339v7h1v-7zM478 344v5h1v-5zM479 342v7h1v-7zM480 345v4h1v-4zM481 336v10h1v-10zM482 336v11h1v-11zM483 342v7h1v-7zM484 342v4h1v-4zM485 339v7h1v-7zM486 342v2h1v-2zM487 342v7h1v-7zM488 342v4h1v-4zM489 345v4h1v-4zM490 342v7h1v-7zM491 342v7h1v-7zM492 341v5h1v-5zM493 336v10h1v-10zM494 345v2h1v-2zM495 345v7h1v-7zM496 339v7h1v-7zM497 342v7h1v-7zM498 342v7h1v-7zM499 342v7h1v-7zM500 339v8h1v-8zM501 341v8h1v-8zM502 339v7h1v-7zM503 342v7h1v-7zM504 345v2h1v-2zM505 344v5h1v-5zM506 342v7h1v-7zM507 342v7h1v-7zM508 342v7h1v-7zM509 339v4h1v-4zM510 341v5h1v-5zM511 342v4h1v-4zM512 339v10h1v-10zM513 342v4h1v-4zM514 345v2h1v-2zM515 342v7h1v-7zM516 342v7h1v-7zM517 342v7h1v-7zM518 339v7h1v-7zM519 342v7h1v-7zM520 345v4h1v-4zM521 339v10h1v-10zM522 344v5h1v-5zM523 341v8h1v-8zM524 339v10h1v-10zM525 342v7h1v-7zM526 342v4h1v-4zM527 341v8h1v-8zM528 339v8h1v-8zM529 342v7h1v-7zM530 336v13h1v-13zM531 339v10h1v-10zM532 344v3h1v-3zM533 342v7h1v-7zM534 342v5h1v-5zM535 344v3h1v-3zM536 339v10h1v-10zM537 339v7h1v-7zM538 342v7h1v-7zM539 333v16h1v-16zM540 339v10h1v-10zM541 339v7h1v-7zM542 341v8h1v-8zM543 345v5h1v-5zM544 347v5h1v-5zM545 342v5h1v-5zM546 339v7h1v-7zM547 341v5h1v-5zM548 333v13h1v-13zM549 340v9h1v-9zM550 336v13h1v-13zM551 345v4h1v-4zM552 342v7h1v-7zM553 339v10h1v-10zM554 344v8h1v-8zM555 339v7h1v-7zM556 333v10h1v-10zM557 342v5h1v-5zM558 342v7h1v-7zM559 339v10h1v-10zM560 333v14h1v-14zM561 345v4h1v-4zM562 338v8h1v-8zM563 336v13h1v-13zM564 342v5h1v-5zM565 345v4h1v-4zM566 342v7h1v-7zM567 342v4h1v-4zM568 342v7h1v-7zM569 342v4h1v-4zM570 342v4h1v-4zM571 336v13h1v-13zM572 340v7h1v-7zM573 347v5h1v-5zM574 344v3h1v-3zM575 339v5h1v-5zM576 343v6h1v-6zM577 333v16h1v-16zM578 340v7h1v-7zM579 347v2h1v-2zM580 344v3h1v-3zM581 342v7h1v-7zM582 339v10h1v-10zM583 343v3h1v-3zM584 342v7h1v-7zM585 345v4h1v-4zM586 342v4h1v-4zM587 344v5h1v-5zM588 339v7h1v-7zM589 342v7h1v-7zM590 345v4h1v-4zM591 342v4h1v-4zM592 339v7h1v-7zM593 345v4h1v-4zM594 342v5h1v-5zM595 342v7h1v-7zM596 341v6h1v-6zM597 339v8h1v-8zM598 345v4h1v-4zM599 345v4h1v-4zM600 345v4h1v-4zM601 345v4h1v-4zM602 345v7h1v-7zM603 347v2h1v-2zM604 345v4h1v-4zM605 345v4h1v-4zM606 345v4h1v-4zM607 339v10h1v-10zM608 341v6h1v-6zM609 347v2h1v-2zM610 345v2h1v-2zM611 345v4h1v-4zM612 345v2h1v-2zM613 347v2h1v-2zM614 345v4h1v-4zM615 345v4h1v-4zM616 347v2h1v-2zM617 345v2h1v-2zM618 345v4h1v-4zM619 339v10h1v-10zM620 339v8h1v-8zM621 345v4h1v-4zM622 341v8h1v-8zM623 334v13h1v-13zM624 333v14h1v-14zM625 279v68h1v-68zM626 212v135h1v-135zM627 345v2h1v-2zM628 347v2h1v-2zM629 348v2h1v-2zM630 348v4h1v-4zM631 345v4h1v-4zM632 276v71h1v-71zM633 276v71h1v-71zM634 345v2h1v-2zM635 347v2h1v-2zM636 276v71h1v-71zM637 276v72h1v-72zM638 348v4h1v-4zM639 347v3h1v-3zM640 342v5h1v-5zM641 342v7h1v-7zM642 345v7h1v-7zM643 345v4h1v-4zM644 345v2h1v-2zM645 347v3h1v-3zM646 347v5h1v-5zM647 345v4h1v-4zM648 347v2h1v-2zM649 345v10h1v-10zM650 342v9h1v-9zM651 346v3h1v-3zM652 345v4h1v-4zM653 347v2h1v-2zM654 342v5h1v-5zM655 344v5h1v-5zM656 344v3h1v-3zM657 342v10h1v-10zM658 345v5h1v-5zM659 345v4h1v-4zM660 348v1h1v-1zM661 348v1h1v-1zM662 345v4h1v-4zM663 342v7h1v-7zM664 342v5h1v-5zM665 344v5h1v-5zM666 342v8h1v-8zM667 345v10h1v-10zM668 345v2h1v-2zM669 345v4h1v-4zM670 345v4h1v-4zM671 345v4h1v-4zM672 345v4h1v-4zM673 345v4h1v-4zM674 342v4h1v-4zM675 339v10h1v-10zM676 343v3h1v-3zM677 345v4h1v-4zM678 342v4h1v-4zM679 345v4h1v-4zM680 344v3h1v-3zM681 342v7h1v-7zM682 348v1h1v-1zM683 348v1h1v-1zM684 345v4h1v-4zM685 347v2h1v-2zM686 345v4h1v-4zM687 345v4h1v-4zM688 345v4h1v-4zM689 347v5h1v-5zM690 342v5h1v-5zM691 342v4h1v-4zM692 344v5h1v-5zM693 324v23h1v-23zM694 324v23h1v-23zM695 345v1h1v-1zM696 221v126h1v-126zM697 201v146h1v-146zM698 271v76h1v-76zM699 300v47h1v-47zM700 261v43h1v-43zM701 261v86h1v-86zM702 310v37h1v-37zM703 330v18h1v-18zM704 345v4h1v-4zM705 345v2h1v-2zM706 347v2h1v-2zM707 345v2h1v-2zM708 342v7h1v-7zM709 348v7h1v-7zM710 342v7h1v-7zM711 339v10h1v-10zM712 347v2h1v-2zM713 345v4h1v-4zM714 345v2h1v-2zM715 345v5h1v-5zM716 350v5h1v-5zM717 345v5h1v-5zM718 342v7h1v-7zM719 344v2h1v-2zM720 342v7h1v-7zM721 339v10h1v-10zM722 344v5h1v-5zM723 342v5h1v-5zM724 342v10h1v-10zM725 339v8h1v-8zM726 345v4h1v-4zM727 345v4h1v-4zM728 345v4h1v-4zM729 306v41h1v-41zM730 306v42h1v-42zM731 348v1h1v-1zM732 345v4h1v-4zM733 306v41h1v-41zM734 306v41h1v-41zM735 318v29h1v-29zM736 342v7h1v-7zM737 345v2h1v-2zM738 345v1h1v-1zM739 345v4h1v-4zM740 339v8h1v-8zM741 344v8h1v-8zM742 348v2h1v-2zM743 345v4h1v-4zM744 345v4h1v-4zM745 345v5h1v-5zM746 347v8h1v-8zM747 345v4h1v-4zM748 348v1h1v-1zM749 345v4h1v-4zM750 347v2h1v-2zM751 348v1h1v-1zM752 347v2h1v-2zM753 345v4h1v-4zM754 345v5h1v-5zM755 345v7h1v-7zM756 345v7h1v-7zM757 345v4h1v-4zM758 347v2h1v-2zM759 345v4h1v-4zM760 348v4h1v-4zM761 348v1h1v-1zM762 345v4h1v-4zM763 345v4h1v-4zM764 342v5h1v-5zM765 345v4h1v-4zM766 345v4h1v-4zM767 339v8h1v-8zM768 344v5h1v-5zM769 345v4h1v-4zM770 345v4h1v-4zM771 348v4h1v-4zM772 342v7h1v-7zM773 344v2h1v-2zM774 345v5h1v-5zM775 345v7h1v-7zM776 347v2h1v-2zM777 342v7h1v-7zM778 344v5h1v-5zM779 345v4h1v-4zM780 345v4h1v-4zM781 342v7h1v-7zM782 339v8h1v-8zM783 343v4h1v-4zM784 347v2h1v-2zM785 345v2h1v-2zM786 347v2h1v-2zM787 347v2h1v-2zM788 346v7h1v-7zM789 347v6h1v-6z"/>
<path fill="#00ced1" d="M273 354v6h1v-6zM274 348v12h1v-12zM276 358v2h1v-2zM277 355v5h1v-5zM283 335v25h1v-25zM284 333v13h1v-13zM285 338v22h1v-22zM286 350v10h1v-10zM287 340v20h1v-20zM288 355v5h1v-5zM289 349v11h1v-11zM290 356v4h1v-4zM291 351v9h1v-9zM292 358v2h1v-2zM293 355v5h1v-5zM331 358v2h1v-2zM332 356v4h1v-4zM333 357v3h1v-3zM334 354v6h1v-6zM335 358v2h1v-2zM336 356v4h1v-4zM344 329v31h1v-31zM345 329v14h1v-14zM346 322v25h1v-25zM347 342v18h1v-18zM348 352v8h1v-8zM349 355v5h1v-5zM369 335v25h1v-25zM370 333v2h1v-2zM371 333v14h1v-14zM372 341v19h1v-19zM373 352v8h1v-8zM374 355v5h1v-5zM626 312v48h1v-48zM627 312v48h1v-48zM632 356v4h1v-4zM633 352v8h1v-8zM634 355v5h1v-5zM635 355v5h1v-5zM636 350v10h1v-10zM637 351v9h1v-9zM695 355v5h1v-5zM696 350v10h1v-10zM697 352v8h1v-8zM698 354v6h1v-6zM701 333v27h1v-27zM702 331v5h1v-5zM703 336v24h1v-24zM704 355v5h1v-5zM727 357v3h1v-3zM728 353v7h1v-7zM729 355v5h1v-5zM730 354v6h1v-6zM731 348v12h1v-12zM732 345v8h1v-8zM733 348v12h1v-12zM734 356v4h1v-4z"/>
<path fill="#000" d="M71 342v1h1v-1zM72 342v1h1v-1zM73 342v1h1v-1zM74 342v1h1v-1zM75 342v1h1v-1zM76 342v1h1v-1zM77 342v1h1v-1zM78 342v1h1v-1zM79 342v1h1v-1zM80 342v1h1v-1zM81 342v1h1v-1zM82 342v1h1v-1zM83 342v1h1v-1zM84 342v1h1v-1zM85 342v1h1v-1zM86 342v1h1v-1zM87 342v1h1v-1zM88 342v1h1v-1zM89 342v1h1v-1zM90 342v1h1v-1zM91 342v1h1v-1zM92 342v1h1v-1zM93 342v1h1v-1zM94 342v1h1v-1zM95 342v1h1v-1zM96 342v1h1v-1zM97 342v1h1v-1zM98 342v1h1v-1zM99 342v1h1v-1zM100 342v1h1v-1zM101 342v1h1v-1zM102 342v1h1v-1zM103 342v1h1v-1zM104 342v1h1v-1zM105 342v1h1v-1zM106 342v1h1v-1zM107 342v1h1v-1zM108 342v1h1v-1zM109 342v1h1v-1zM110 342v1h1v-1zM111 342v1h1v-1zM112 342v1h1v-1zM113 342v1h1v-1zM114 342v1h1v-1zM115 342v1h1v-1zM116 342v1h1v-1zM117 342v1h1v-1zM118 342v1h1v-1zM119 342v1h1v-1zM120 341v2h1v-2zM121 339v2h1v-2zM122 339v1h1v-1zM123 339v1h1v-1zM124 339v1h1v-1zM125 339v1h1v-1zM126 339v1h1v-1zM127 339v2h1v-2zM128 341v2h1v-2zM129 342v1h1v-1zM130 342v1h1v-1zM131 342v1h1v-1zM132 343v2h1v-2zM133 345v1h1v-1zM134 345v1h1v-1zM135 345v1h1v-1zM136 345v1h1v-1zM137 345v1h1v-1zM138 345v1h1v-1zM139 345v1h1v-1zM140 345v1h1v-1zM141 345v1h1v-1zM142 345v1h1v-1zM143 345v1h1v-1zM144 345v1h1v-1zM145 345v1h1v-1zM146 345v1h1v-1zM147 345v1h1v-1zM148 345v1h1v-1zM149 345v1h1v-1zM150 345v1h1v-1zM151 345v1h1v-1zM152 345v1h1v-1zM153 345v1h1v-1zM154 345v1h1v-1zM155 345v1h1v-1zM156 345v1h1v-1zM157 345v1h1v-1zM158 345v1h1v-1zM159 345v1h1v-1zM160 345v1h1v-1zM161 345v1h1v-1zM162 345v1h1v-1zM163 345v5h1v-5zM164 350v5h1v-5zM165 354v1h1v-1zM166 354v1h1v-1zM167 354v1h1v-1zM168 354v1h1v-1zM169 354v1h1v-1zM170 354v1h1v-1zM171 354v1h1v-1zM172 354v1h1v-1zM173 354v1h1v-1zM174 354v1h1v-1zM175 354v1h1v-1zM176 354v1h1v-1zM177 351v4h1v-4zM178 348v3h1v-3zM179 348v1h1v-1zM180 348v1h1v-1zM181 348v1h1v-1zM182 348v1h1v-1zM183 348v1h1v-1zM184 348v1h1v-1zM185 348v1h1v-1zM186 348v1h1v-1zM187 348v1h1v-1zM188 348v1h1v-1zM189 347v2h1v-2zM190 345v2h1v-2zM191 345v1h1v-1zM192 345v1h1v-1zM193 345v1h1v-1zM194 345v1h1v-1zM195 345v1h1v-1zM196 345v1h1v-1zM197 345v1h1v-1zM198 345v1h1v-1zM199 345v1h1v-1zM200 345v1h1v-1zM201 345v1h1v-1zM202 345v1h1v-1zM203 345v1h1v-1zM204 345v1h1v-1zM205 345v1h1v-1zM206 345v1h1v-1zM207 345v1h1v-1zM208 345v1h1v-1zM209 345v1h1v-1zM210 345v1h1v-1zM211 345v1h1v-1zM212 345v1h1v-1zM213 345v1h1v-1zM214 345v1h1v-1zM215 345v1h1v-1zM216 345v1h1v-1zM217 345v1h1v-1zM218 345v1h1v-1zM219 345v1h1v-1zM220 345v1h1v-1zM221 345v1h1v-1zM222 345v1h1v-1zM223 345v1h1v-1zM224 345v1h1v-1zM225 0v180h1v-180zM225 267v90h1v-90zM226 87v271h1v-271zM227 0v87h1v-87zM227 356v1h1v-1zM228 356v1h1v-1zM229 356v1h1v-1zM230 266v90h1v-90zM231 87v179h1v-179zM232 0v181h1v-181zM232 359v1h1v-1zM233 181v179h1v-179zM237 336v22h1v-22zM238 339v2h1v-2zM238 342v1h1v-1zM239 341v2h1v-2zM240 342v1h1v-1zM241 342v1h1v-1zM242 342v1h1v-1zM243 342v1h1v-1zM244 342v1h1v-1zM245 342v1h1v-1zM246 342v1h1v-1zM247 342v1h1v-1zM248 342v1h1v-1zM249 342v1h1v-1zM250 342v1h1v-1zM251 342v1h1v-1zM252 342v1h1v-1zM253 342v1h1v-1zM254 342v1h1v-1zM255 342v1h1v-1zM256 342v1h1v-1zM257 342v1h1v-1zM258 342v1h1v-1zM259 342v1h1v-1zM260 342v1h1v-1zM261 342v1h1v-1zM262 341v2h1v-2zM263 339v2h1v-2zM264 339v1h1v-1zM265 339v1h1v-1zM266 339v1h1v-1zM267 339v1h1v-1zM268 339v1h1v-1zM269 339v1h1v-1zM270 339v1h1v-1zM271 339v1h1v-1zM272 339v1h1v-1zM273 339v1h1v-1zM274 340v1h1v-1zM275 341v1h1v-1zM276 342v1h1v-1zM277 342v1h1v-1zM278 342v1h1v-1zM279 342v1h1v-1zM280 342v1h1v-1zM281 342v1h1v-1zM282 342v1h1v-1zM283 342v1h1v-1zM284 342v1h1v-1zM285 342v1h1v-1zM286 342v1h1v-1zM287 342v1h1v-1zM288 342v1h1v-1zM289 342v1h1v-1zM290 342v1h1v-1zM291 342v10h1v-10zM292 351v1h1v-1zM293 351v1h1v-1zM294 351v1h1v-1zM295 351v1h1v-1zM296 351v1h1v-1zM297 351v1h1v-1zM298 351v1h1v-1zM299 351v1h1v-1zM300 351v1h1v-1zM301 351v1h1v-1zM302 351v1h1v-1zM303 351v1h1v-1zM304 351v1h1v-1zM305 351v1h1v-1zM306 351v1h1v-1zM307 351v1h1v-1zM308 351v1h1v-1zM309 351v1h1v-1zM310 351v1h1v-1zM311 351v1h1v-1zM312 351v1h1v-1zM313 351v1h1v-1zM314 351v1h1v-1zM315 351v1h1v-1zM316 351v1h1v-1zM317 351v1h1v-1zM318 351v1h1v-1zM319 351v1h1v-1zM320 351v1h1v-1zM321 351v1h1v-1zM322 351v1h1v-1zM323 351v1h1v-1zM324 351v1h1v-1zM325 351v1h1v-1zM326 351v1h1v-1zM327 351v1h1v-1zM328 351v1h1v-1zM329 351v1h1v-1zM330 351v1h1v-1zM331 351v1h1v-1zM332 351v1h1v-1zM333 351v1h1v-1zM334 351v1h1v-1zM335 351v1h1v-1zM336 351v1h1v-1zM337 351v1h1v-1zM338 351v1h1v-1zM339 351v1h1v-1zM340 350v2h1v-2zM341 347v3h1v-3zM342 345v2h1v-2zM343 345v1h1v-1zM344 345v1h1v-1zM345 345v1h1v-1zM346 345v1h1v-1zM347 345v1h1v-1zM348 345v1h1v-1zM349 345v1h1v-1zM350 345v1h1v-1zM351 345v1h1v-1zM352 345v1h1v-1zM353 345v1h1v-1zM354 345v1h1v-1zM355 345v1h1v-1zM356 345v1h1v-1zM357 345v2h1v-2zM358 347v3h1v-3zM359 350v2h1v-2zM360 351v1h1v-1zM361 351v1h1v-1zM362 351v1h1v-1zM363 351v1h1v-1zM364 351v1h1v-1zM365 351v1h1v-1zM366 351v1h1v-1zM367 351v1h1v-1zM368 351v1h1v-1zM369 351v1h1v-1zM370 351v1h1v-1zM371 351v1h1v-1zM372 351v1h1v-1zM373 351v1h1v-1zM374 351v1h1v-1zM375 351v1h1v-1zM376 351v1h1v-1zM377 351v1h1v-1zM378 351v1h1v-1zM379 351v1h1v-1zM380 351v1h1v-1zM381 351v1h1v-1zM382 351v1h1v-1zM383 351v1h1v-1zM384 351v1h1v-1zM385 351v1h1v-1zM386 349v2h1v-2zM387 348v1h1v-1zM388 348v1h1v-1zM389 348v1h1v-1zM390 348v1h1v-1zM391 348v1h1v-1zM392 348v1h1v-1zM393 348v1h1v-1zM394 348v1h1v-1zM395 348v1h1v-1zM396 348v6h1v-6zM397 343v17h1v-17zM398 327v16h1v-16zM399 330v5h1v-5zM400 335v5h1v-5zM401 340v3h1v-3zM402 342v1h1v-1zM403 342v1h1v-1zM404 342v1h1v-1zM405 342v1h1v-1zM406 342v1h1v-1zM407 342v1h1v-1zM408 342v1h1v-1zM409 342v1h1v-1zM410 342v1h1v-1zM411 342v1h1v-1zM412 342v1h1v-1zM413 342v1h1v-1zM414 342v16h1v-16zM415 351v3h1v-3zM416 351v1h1v-1zM417 351v1h1v-1zM418 351v1h1v-1zM419 351v1h1v-1zM420 351v1h1v-1zM421 351v1h1v-1zM422 351v1h1v-1zM423 351v1h1v-1zM424 351v1h1v-1zM425 351v1h1v-1zM426 351v1h1v-1zM427 351v1h1v-1zM428 351v1h1v-1zM429 351v1h1v-1zM430 351v1h1v-1zM431 351v1h1v-1zM432 351v1h1v-1zM433 351v1h1v-1zM434 351v1h1v-1zM435 351v1h1v-1zM436 351v1h1v-1zM437 351v1h1v-1zM438 351v1h1v-1zM439 351v1h1v-1zM440 351v1h1v-1zM441 351v1h1v-1zM442 351v1h1v-1zM443 348v4h1v-4zM444 345v3h1v-3zM445 345v1h1v-1zM446 345v1h1v-1zM447 345v1h1v-1zM448 345v1h1v-1zM449 345v1h1v-1zM450 345v1h1v-1zM451 345v1h1v-1zM452 345v1h1v-1zM453 345v1h1v-1zM454 345v1h1v-1zM455 345v1h1v-1zM456 345v1h1v-1zM457 345v1h1v-1zM458 345v1h1v-1zM459 345v1h1v-1zM460 345v1h1v-1zM461 345v1h1v-1zM462 342v4h1v-4zM463 339v3h1v-3zM464 339v1h1v-1zM465 339v1h1v-1zM466 339v1h1v-1zM467 339v1h1v-1zM468 339v1h1v-1zM469 338v2h1v-2zM470 336v2h1v-2zM471 336v1h1v-1zM472 336v1h1v-1zM473 336v1h1v-1zM474 336v1h1v-1zM475 336v1h1v-1zM476 336v1h1v-1zM477 336v1h1v-1zM478 336v1h1v-1zM479 336v1h1v-1zM480 336v1h1v-1zM481 336v1h1v-1zM482 336v1h1v-1zM483 336v1h1v-1zM484 336v1h1v-1zM485 336v1h1v-1zM486 336v1h1v-1zM487 336v1h1v-1zM488 336v1h1v-1zM489 336v1h1v-1zM490 336v1h1v-1zM491 336v1h1v-1zM492 336v1h1v-1zM493 336v1h1v-1zM494 336v1h1v-1zM495 336v1h1v-1zM496 336v1h1v-1zM497 336v1h1v-1zM498 336v1h1v-1zM499 335v2h1v-2zM500 333v2h1v-2zM501 333v1h1v-1zM502 333v1h1v-1zM503 333v1h1v-1zM504 333v1h1v-1zM505 333v1h1v-1zM506 333v1h1v-1zM507 333v1h1v-1zM508 333v1h1v-1zM509 333v1h1v-1zM510 333v1h1v-1zM511 333v1h1v-1zM512 333v1h1v-1zM513 333v1h1v-1zM514 333v1h1v-1zM515 333v1h1v-1zM516 333v1h1v-1zM517 333v2h1v-2zM518 335v5h1v-5zM519 340v3h1v-3zM520 342v1h1v-1zM521 342v1h1v-1zM522 342v1h1v-1zM523 342v1h1v-1zM524 342v1h1v-1zM525 342v1h1v-1zM526 342v1h1v-1zM527 342v1h1v-1zM528 342v1h1v-1zM529 342v1h1v-1zM530 342v1h1v-1zM531 342v1h1v-1zM532 342v1h1v-1zM533 342v1h1v-1zM534 342v1h1v-1zM535 342v1h1v-1zM536 342v1h1v-1zM537 342v1h1v-1zM538 342v1h1v-1zM539 342v1h1v-1zM540 342v1h1v-1zM541 339v4h1v-4zM542 335v4h1v-4zM543 333v2h1v-2zM544 333v4h1v-4zM545 337v3h1v-3zM546 339v1h1v-1zM547 339v1h1v-1zM548 339v1h1v-1zM549 339v1h1v-1zM550 339v1h1v-1zM551 339v1h1v-1zM552 339v1h1v-1zM553 339v1h1v-1zM554 339v1h1v-1zM555 339v1h1v-1zM556 339v1h1v-1zM557 339v1h1v-1zM558 339v1h1v-1zM559 339v1h1v-1zM560 339v1h1v-1zM561 339v1h1v-1zM562 339v1h1v-1zM563 339v1h1v-1zM564 339v1h1v-1zM565 339v1h1v-1zM566 339v1h1v-1zM567 339v1h1v-1zM568 339v1h1v-1zM569 336v4h1v-4zM570 333v3h1v-3zM571 333v3h1v-3zM572 336v4h1v-4zM573 340v3h1v-3zM574 342v1h1v-1zM575 342v1h1v-1zM576 342v1h1v-1zM577 342v1h1v-1zM578 342v1h1v-1zM579 342v1h1v-1zM580 342v1h1v-1zM581 342v1h1v-1zM582 342v1h1v-1zM583 342v1h1v-1zM584 342v1h1v-1zM585 342v1h1v-1zM586 342v1h1v-1zM587 342v1h1v-1zM588 342v1h1v-1zM589 342v1h1v-1zM590 342v1h1v-1zM591 341v2h1v-2zM592 338v3h1v-3zM593 336v2h1v-2zM594 336v1h1v-1zM595 336v1h1v-1zM596 336v1h1v-1zM597 336v1h1v-1zM598 336v1h1v-1zM599 336v7h1v-7zM600 343v6h1v-6zM601 348v1h1v-1zM602 348v1h1v-1zM603 348v1h1v-1zM604 348v1h1v-1zM605 348v1h1v-1zM606 348v1h1v-1zM607 348v1h1v-1zM608 348v1h1v-1zM609 348v1h1v-1zM610 348v1h1v-1zM611 348v1h1v-1zM612 348v1h1v-1zM613 348v1h1v-1zM614 348v1h1v-1zM615 348v1h1v-1zM616 348v1h1v-1zM617 348v1h1v-1zM618 348v1h1v-1zM619 345v4h1v-4zM620 342v3h1v-3zM621 342v1h1v-1zM622 342v4h1v-4zM623 346v3h1v-3zM624 348v1h1v-1zM625 348v1h1v-1zM626 348v1h1v-1zM627 348v1h1v-1zM628 348v1h1v-1zM629 348v1h1v-1zM630 348v1h1v-1zM631 348v1h1v-1zM632 348v1h1v-1zM633 348v1h1v-1zM634 348v1h1v-1zM635 348v1h1v-1zM636 348v1h1v-1zM637 348v1h1v-1zM638 348v1h1v-1zM639 348v1h1v-1zM640 348v1h1v-1zM641 348v1h1v-1zM642 348v1h1v-1zM643 348v1h1v-1zM644 348v1h1v-1zM645 348v1h1v-1zM646 348v1h1v-1zM647 348v1h1v-1zM648 347v2h1v-2zM649 345v2h1v-2zM650 345v1h1v-1zM651 345v1h1v-1zM652 345v1h1v-1zM653 345v1h1v-1zM654 345v1h1v-1zM655 345v1h1v-1zM656 345v1h1v-1zM657 345v1h1v-1zM658 345v1h1v-1zM659 345v1h1v-1zM660 345v1h1v-1zM661 345v1h1v-1zM662 345v1h1v-1zM663 345v1h1v-1zM664 345v1h1v-1zM665 345v1h1v-1zM666 345v1h1v-1zM667 345v1h1v-1zM668 345v1h1v-1zM669 345v1h1v-1zM670 345v1h1v-1zM671 345v1h1v-1zM672 345v1h1v-1zM673 345v1h1v-1zM674 345v1h1v-1zM675 345v1h1v-1zM676 345v1h1v-1zM677 345v1h1v-1zM678 345v1h1v-1zM679 345v1h1v-1zM680 345v1h1v-1zM681 345v1h1v-1zM682 345v1h1v-1zM683 345v1h1v-1zM684 345v1h1v-1zM685 345v1h1v-1zM686 345v1h1v-1zM687 345v1h1v-1zM688 345v1h1v-1zM689 342v4h1v-4zM690 339v3h1v-3zM691 339v1h1v-1zM692 339v1h1v-1zM693 339v1h1v-1zM694 339v1h1v-1zM695 339v1h1v-1zM696 339v1h1v-1zM697 339v1h1v-1zM698 339v1h1v-1zM699 339v1h1v-1zM700 339v1h1v-1zM701 339v1h1v-1zM702 339v1h1v-1zM703 339v1h1v-1zM704 339v1h1v-1zM705 339v1h1v-1zM706 339v1h1v-1zM707 339v1h1v-1zM708 339v1h1v-1zM709 339v1h1v-1zM710 339v1h1v-1zM711 339v1h1v-1zM712 339v1h1v-1zM713 339v1h1v-1zM714 339v1h1v-1zM715 339v1h1v-1zM716 339v1h1v-1zM717 339v1h1v-1zM718 339v1h1v-1zM719 339v1h1v-1zM720 339v1h1v-1zM721 339v1h1v-1zM722 339v1h1v-1zM723 339v1h1v-1zM724 339v1h1v-1zM725 339v1h1v-1zM726 339v10h1v-10zM727 349v12h1v-12zM728 360v1h1v-1zM729 360v1h1v-1zM730 360v1h1v-1zM731 360v1h1v-1zM732 360v1h1v-1zM733 360v1h1v-1zM734 360v1h1v-1zM735 360v1h1v-1zM736 360v1h1v-1zM737 360v1h1v-1zM738 360v1h1v-1zM739 360v1h1v-1zM740 360v1h1v-1zM741 359v2h1v-2zM742 357v2h1v-2zM743 355v2h1v-2zM744 354v1h1v-1zM745 354v1h1v-1zM746 354v1h1v-1zM747 354v1h1v-1zM748 354v1h1v-1zM749 354v1h1v-1zM750 354v1h1v-1zM751 354v1h1v-1zM752 354v1h1v-1zM753 354v1h1v-1zM754 354v1h1v-1zM755 354v1h1v-1zM756 354v1h1v-1zM757 354v1h1v-1zM758 354v1h1v-1zM759 354v1h1v-1zM760 354v1h1v-1zM761 354v1h1v-1zM762 354v1h1v-1zM763 354v1h1v-1zM764 354v1h1v-1zM765 354v1h1v-1zM766 354v1h1v-1zM767 354v1h1v-1zM768 354v1h1v-1zM769 354v1h1v-1zM770 354v1h1v-1zM771 354v1h1v-1zM772 354v1h1v-1zM773 354v1h1v-1zM774 354v1h1v-1zM775 354v1h1v-1zM776 354v1h1v-1zM777 354v1h1v-1zM778 354v1h1v-1zM779 354v1h1v-1zM780 354v1h1v-1zM781 354v1h1v-1zM782 354v1h1v-1zM783 354v1h1v-1zM784 354v1h1v-1zM785 354v1h1v-1zM786 354v1h1v-1zM787 315v9h1v-9zM787 334v21h1v-21zM788 324v11h1v-11zM789 333v1h1v-1z"/>
<path fill="#0000ff" d="M71 165v118h1v-118zM72 282v13h1v-13zM73 294v7h1v-7zM74 288v7h1v-7zM75 288v7h1v-7zM76 288v13h1v-13zM77 288v9h1v-9zM78 288v7h1v-7zM79 288v7h1v-7zM80 288v7h1v-7zM81 288v7h1v-7zM82 288v7h1v-7zM83 285v10h1v-10zM84 282v7h1v-7zM85 288v7h1v-7zM86 288v7h1v-7zM87 288v7h1v-7zM88 288v7h1v-7zM89 292v3h1v-3zM90 288v7h1v-7zM91 294v7h1v-7zM92 288v7h1v-7zM93 294v7h1v-7zM94 285v10h1v-10zM95 282v10h1v-10zM96 288v7h1v-7zM97 288v13h1v-13zM98 288v7h1v-7zM99 288v7h1v-7zM100 288v7h1v-7zM101 292v9h1v-9zM102 288v9h1v-9zM103 288v7h1v-7zM104 288v7h1v-7zM105 291v4h1v-4zM106 288v7h1v-7zM107 288v7h1v-7zM108 294v7h1v-7zM109 291v4h1v-4zM110 288v7h1v-7zM111 294v7h1v-7zM112 288v7h1v-7zM113 294v1h1v-1zM114 288v7h1v-7zM115 288v7h1v-7zM116 288v7h1v-7zM117 288v7h1v-7zM118 285v10h1v-10zM119 282v7h1v-7zM120 288v7h1v-7zM121 288v13h1v-13zM122 288v7h1v-7zM123 288v7h1v-7zM124 288v7h1v-7zM125 288v7h1v-7zM126 288v7h1v-7zM127 288v7h1v-7zM128 288v7h1v-7zM129 294v7h1v-7zM130 294v7h1v-7zM131 294v7h1v-7zM132 288v13h1v-13zM133 288v7h1v-7zM134 288v10h1v-10zM135 294v7h1v-7zM136 294v7h1v-7zM137 288v7h1v-7zM138 288v7h1v-7zM139 294v7h1v-7zM140 294v7h1v-7zM141 294v7h1v-7zM142 288v9h1v-9zM143 288v7h1v-7zM144 288v7h1v-7zM145 288v13h1v-13zM146 292v6h1v-6zM147 294v7h1v-7zM148 288v13h1v-13zM149 294v7h1v-7zM150 294v7h1v-7zM151 294v7h1v-7zM152 288v13h1v-13zM153 292v3h1v-3zM154 294v7h1v-7zM155 288v13h1v-13zM156 294v3h1v-3zM157 294v7h1v-7zM158 294v7h1v-7zM159 288v13h1v-13zM160 294v7h1v-7zM161 294v1h1v-1zM162 288v7h1v-7zM163 288v7h1v-7zM164 294v7h1v-7zM165 294v3h1v-3zM166 294v4h1v-4zM167 294v7h1v-7zM168 294v7h1v-7zM169 288v13h1v-13zM170 292v9h1v-9zM171 288v13h1v-13zM172 294v4h1v-4zM173 294v7h1v-7zM174 294v7h1v-7zM175 294v7h1v-7zM176 294v7h1v-7zM177 294v4h1v-4zM178 294v7h1v-7zM179 294v7h1v-7zM180 294v7h1v-7zM181 294v7h1v-7zM182 294v4h1v-4zM183 294v7h1v-7zM184 291v10h1v-10zM185 288v13h1v-13zM186 297v10h1v-10zM187 294v3h1v-3zM188 294v1h1v-1zM189 294v1h1v-1zM190 294v7h1v-7zM191 294v7h1v-7zM192 294v7h1v-7zM193 294v7h1v-7zM194 294v4h1v-4zM195 294v7h1v-7zM196 298v3h1v-3zM197 294v7h1v-7zM198 294v7h1v-7zM199 294v4h1v-4zM200 294v7h1v-7zM201 294v7h1v-7zM202 294v7h1v-7zM203 294v7h1v-7zM204 294v7h1v-7zM205 288v7h1v-7zM206 295v6h1v-6zM207 294v7h1v-7zM208 294v7h1v-7zM209 294v4h1v-4zM210 294v7h1v-7zM211 294v7h1v-7zM212 294v7h1v-7zM213 294v7h1v-7zM214 294v7h1v-7zM215 294v7h1v-7zM216 294v4h1v-4zM217 294v7h1v-7zM218 294v1h1v-1zM219 294v7h1v-7zM220 294v7h1v-7zM221 294v1h1v-1zM222 294v7h1v-7zM223 294v4h1v-4zM224 298v3h1v-3zM225 294v7h1v-7zM226 291v4h1v-4zM227 288v7h1v-7zM228 294v7h1v-7zM229 294v3h1v-3zM230 294v1h1v-1zM231 294v1h1v-1zM232 294v7h1v-7zM233 294v7h1v-7zM234 294v7h1v-7zM235 294v7h1v-7zM236 294v7h1v-7zM237 300v7h1v-7zM238 294v7h1v-7zM239 300v7h1v-7zM240 294v7h1v-7zM241 300v7h1v-7zM242 294v7h1v-7zM243 294v7h1v-7zM244 294v7h1v-7zM245 294v7h1v-7zM246 294v7h1v-7zM247 294v7h1v-7zM248 294v4h1v-4zM249 294v7h1v-7zM250 294v7h1v-7zM251 297v4h1v-4zM252 294v7h1v-7zM253 294v7h1v-7zM254 294v7h1v-7zM255 294v7h1v-7zM256 294v7h1v-7zM257 297v4h1v-4zM258 294v7h1v-7zM259 294v7h1v-7zM260 294v1h1v-1zM261 294v7h1v-7zM262 294v7h1v-7zM263 294v7h1v-7zM264 294v7h1v-7zM265 294v1h1v-1zM266 294v1h1v-1zM267 294v1h1v-1zM268 294v7h1v-7zM269 294v7h1v-7zM270 294v7h1v-7zM271 294v7h1v-7zM272 294v7h1v-7zM273 294v7h1v-7zM274 294v7h1v-7zM275 294v7h1v-7zM276 294v3h1v-3zM277 294v1h1v-1zM278 294v1h1v-1zM279 294v1h1v-1zM280 294v1h1v-1zM281 294v7h1v-7zM282 294v7h1v-7zM283 297v4h1v-4zM284 294v4h1v-4zM285 298v3h1v-3zM286 294v7h1v-7zM287 294v7h1v-7zM288 294v7h1v-7zM289 294v7h1v-7zM290 294v1h1v-1zM291 294v7h1v-7zM292 294v7h1v-7zM293 294v7h1v-7zM294 294v7h1v-7zM295 294v3h1v-3zM296 294v7h1v-7zM297 294v7h1v-7zM298 294v7h1v-7zM299 294v4h1v-4zM300 294v7h1v-7zM301 294v1h1v-1zM302 294v1h1v-1zM303 294v7h1v-7zM304 294v3h1v-3zM305 294v1h1v-1zM306 294v1h1v-1zM307 294v4h1v-4zM308 294v7h1v-7zM309 294v7h1v-7zM310 294v7h1v-7zM311 294v3h1v-3zM312 294v7h1v-7zM313 294v7h1v-7zM314 294v7h1v-7zM315 294v7h1v-7zM316 294v7h1v-7zM317 294v1h1v-1zM318 294v4h1v-4zM319 294v7h1v-7zM320 294v7h1v-7zM321 294v4h1v-4zM322 294v7h1v-7zM323 294v7h1v-7zM324 294v4h1v-4zM325 294v7h1v-7zM326 294v4h1v-4zM327 294v7h1v-7zM328 291v4h1v-4zM329 288v10h1v-10zM330 297v4h1v-4zM331 294v7h1v-7zM332 294v3h1v-3zM333 294v7h1v-7zM334 294v7h1v-7zM335 294v4h1v-4zM336 294v7h1v-7zM337 294v7h1v-7zM338 294v1h1v-1zM339 294v7h1v-7zM340 294v7h1v-7zM341 291v10h1v-10zM342 288v7h1v-7zM343 294v7h1v-7zM344 294v7h1v-7zM345 294v3h1v-3zM346 294v1h1v-1zM347 294v7h1v-7zM348 294v7h1v-7zM349 294v7h1v-7zM350 294v7h1v-7zM351 294v7h1v-7zM352 294v7h1v-7zM353 294v7h1v-7zM354 294v7h1v-7zM355 294v7h1v-7zM356 294v1h1v-1zM357 294v7h1v-7zM358 294v7h1v-7zM359 294v7h1v-7zM360 288v10h1v-10zM361 294v7h1v-7zM362 294v4h1v-4zM363 294v7h1v-7zM364 291v10h1v-10zM365 288v7h1v-7zM366 288v10h1v-10zM367 291v10h1v-10zM368 288v7h1v-7zM369 288v7h1v-7zM370 291v4h1v-4zM371 288v7h1v-7zM372 288v7h1v-7zM373 294v7h1v-7zM374 288v9h1v-9zM375 292v9h1v-9zM376 294v3h1v-3zM377 294v7h1v-7zM378 288v9h1v-9zM379 288v7h1v-7zM380 288v7h1v-7zM381 288v7h1v-7zM382 288v7h1v-7zM383 292v9h1v-9zM384 288v7h1v-7zM385 288v7h1v-7zM386 288v7h1v-7zM387 294v1h1v-1zM388 288v7h1v-7zM389 292v6h1v-6zM390 291v10h1v-10zM391 288v7h1v-7zM392 294v1h1v-1zM393 288v7h1v-7zM394 292v9h1v-9zM395 294v3h1v-3zM396 294v1h1v-1zM397 294v7h1v-7zM398 288v9h1v-9zM399 291v4h1v-4zM400 288v7h1v-7zM401 288v7h1v-7zM402 294v7h1v-7zM403 294v7h1v-7zM404 294v7h1v-7zM405 288v9h1v-9zM406 292v3h1v-3zM407 288v7h1v-7zM408 294v7h1v-7zM409 288v7h1v-7zM410 288v7h1v-7zM411 288v7h1v-7zM412 288v10h1v-10zM413 291v10h1v-10zM414 288v10h1v-10zM415 294v7h1v-7zM416 288v7h1v-7zM417 288v7h1v-7zM418 291v10h1v-10zM419 288v7h1v-7zM420 294v7h1v-7zM421 288v6h1v-6zM422 292v9h1v-9zM423 300v7h1v-7zM424 294v7h1v-7zM425 294v1h1v-1zM426 288v7h1v-7zM427 288v7h1v-7zM428 291v10h1v-10zM429 288v7h1v-7zM430 288v7h1v-7zM431 294v1h1v-1zM432 288v7h1v-7zM433 288v7h1v-7zM434 288v7h1v-7zM435 288v7h1v-7zM436 288v3h1v-3zM437 288v10h1v-10zM438 294v7h1v-7zM439 294v7h1v-7zM440 288v9h1v-9zM441 288v7h1v-7zM442 288v7h1v-7zM443 288v7h1v-7zM444 288v7h1v-7zM445 292v6h1v-6zM446 294v7h1v-7zM447 288v7h1v-7zM448 288v7h1v-7zM449 294v7h1v-7zM450 288v9h1v-9zM451 288v7h1v-7zM452 292v3h1v-3zM453 288v7h1v-7zM454 294v7h1v-7zM455 294v1h1v-1zM456 288v7h1v-7zM457 292v3h1v-3zM458 294v1h1v-1zM459 294v1h1v-1zM460 288v7h1v-7zM461 288v7h1v-7zM462 291v10h1v-10zM463 288v7h1v-7zM464 288v7h1v-7zM465 288v7h1v-7zM466 288v7h1v-7zM467 288v7h1v-7zM468 291v4h1v-4zM469 288v4h1v-4zM470 288v7h1v-7zM471 294v7h1v-7zM472 294v4h1v-4zM473 291v10h1v-10zM474 288v4h1v-4zM475 292v9h1v-9zM476 288v9h1v-9zM477 288v7h1v-7zM478 294v7h1v-7zM479 288v7h1v-7zM480 288v7h1v-7zM481 288v7h1v-7zM482 288v7h1v-7zM483 291v4h1v-4zM484 288v7h1v-7zM485 288v7h1v-7zM486 288v7h1v-7zM487 292v3h1v-3zM488 288v7h1v-7zM489 292v6h1v-6zM490 294v7h1v-7zM491 294v7h1v-7zM492 294v4h1v-4zM493 294v7h1v-7zM494 294v7h1v-7zM495 294v7h1v-7zM496 294v7h1v-7zM497 294v7h1v-7zM498 294v3h1v-3zM499 294v7h1v-7zM500 294v4h1v-4zM501 294v7h1v-7zM502 294v7h1v-7zM503 288v9h1v-9zM504 295v6h1v-6zM505 294v7h1v-7zM506 294v7h1v-7zM507 297v10h1v-10zM508 294v7h1v-7zM509 294v4h1v-4zM510 294v7h1v-7zM511 294v1h1v-1zM512 294v1h1v-1zM513 294v7h1v-7zM514 294v3h1v-3zM515 294v10h1v-10zM516 300v7h1v-7zM517 294v7h1v-7zM518 294v7h1v-7zM519 294v7h1v-7zM520 294v7h1v-7zM521 294v7h1v-7zM522 298v6h1v-6zM523 297v10h1v-10zM524 294v3h1v-3zM525 291v4h1v-4zM526 288v7h1v-7zM527 294v7h1v-7zM528 294v7h1v-7zM529 294v7h1v-7zM530 294v4h1v-4zM531 297v4h1v-4zM532 294v7h1v-7zM533 294v7h1v-7zM534 294v3h1v-3zM535 294v1h1v-1zM536 294v1h1v-1zM537 294v7h1v-7zM538 294v4h1v-4zM539 294v7h1v-7zM540 294v7h1v-7zM541 294v4h1v-4zM542 294v7h1v-7zM543 294v7h1v-7zM544 297v10h1v-10zM545 294v3h1v-3zM546 294v4h1v-4zM547 294v7h1v-7zM548 294v7h1v-7zM549 294v1h1v-1zM550 294v7h1v-7zM551 294v7h1v-7zM552 294v7h1v-7zM553 294v4h1v-4zM554 294v7h1v-7zM555 294v7h1v-7zM556 294v7h1v-7zM557 294v7h1v-7zM558 294v7h1v-7zM559 294v7h1v-7zM560 294v7h1v-7zM561 294v4h1v-4zM562 294v7h1v-7zM563 294v7h1v-7zM564 294v3h1v-3zM565 294v7h1v-7zM566 294v7h1v-7zM567 294v10h1v-10zM568 297v10h1v-10zM569 294v10h1v-10zM570 297v10h1v-10zM571 294v10h1v-10zM572 297v10h1v-10zM573 294v10h1v-10zM574 300v7h1v-7zM575 300v4h1v-4zM576 300v7h1v-7zM577 294v7h1v-7zM578 294v7h1v-7zM579 300v7h1v-7zM580 294v7h1v-7zM581 294v7h1v-7zM582 294v4h1v-4zM583 294v7h1v-7zM584 294v7h1v-7zM585 291v10h1v-10zM586 288v7h1v-7zM587 294v7h1v-7zM588 294v7h1v-7zM589 294v7h1v-7zM590 294v7h1v-7zM591 294v7h1v-7zM592 298v3h1v-3zM593 300v1h1v-1zM594 294v7h1v-7zM595 294v7h1v-7zM596 291v4h1v-4zM597 288v7h1v-7zM598 294v1h1v-1zM599 294v7h1v-7zM600 294v7h1v-7zM601 294v13h1v-13zM602 288v7h1v-7zM603 288v7h1v-7zM604 288v10h1v-10zM605 294v7h1v-7zM606 294v4h1v-4zM607 298v3h1v-3zM608 297v4h1v-4zM609 294v7h1v-7zM610 288v7h1v-7zM611 288v7h1v-7zM612 294v7h1v-7zM613 294v7h1v-7zM614 294v4h1v-4zM615 298v3h1v-3zM616 294v7h1v-7zM617 294v7h1v-7zM618 294v7h1v-7zM619 294v7h1v-7zM620 294v7h1v-7zM621 294v7h1v-7zM622 294v7h1v-7zM623 288v7h1v-7zM624 282v13h1v-13zM625 282v13h1v-13zM626 282v13h1v-13zM627 282v13h1v-13zM628 282v13h1v-13zM629 288v7h1v-7zM630 294v4h1v-4zM631 294v7h1v-7zM632 294v1h1v-1zM633 294v7h1v-7zM634 294v7h1v-7zM635 294v7h1v-7zM636 294v3h1v-3zM637 294v1h1v-1zM638 294v7h1v-7zM639 294v3h1v-3zM640 294v1h1v-1zM641 291v4h1v-4zM642 288v10h1v-10zM643 294v7h1v-7zM644 294v7h1v-7zM645 294v7h1v-7zM646 300v1h1v-1zM647 294v7h1v-7zM648 294v1h1v-1zM649 294v4h1v-4zM650 294v7h1v-7zM651 294v7h1v-7zM652 294v7h1v-7zM653 294v4h1v-4zM654 294v7h1v-7zM655 294v1h1v-1zM656 294v7h1v-7zM657 294v4h1v-4zM658 294v7h1v-7zM659 294v7h1v-7zM660 294v7h1v-7zM661 300v1h1v-1zM662 294v7h1v-7zM663 294v1h1v-1zM664 294v1h1v-1zM665 294v4h1v-4zM666 291v10h1v-10zM667 288v10h1v-10zM668 294v7h1v-7zM669 300v7h1v-7zM670 294v7h1v-7zM671 294v7h1v-7zM672 294v7h1v-7zM673 294v3h1v-3zM674 294v7h1v-7zM675 294v3h1v-3zM676 294v7h1v-7zM677 294v3h1v-3zM678 294v1h1v-1zM679 294v7h1v-7zM680 297v10h1v-10zM681 294v10h1v-10zM682 300v7h1v-7zM683 294v7h1v-7zM684 297v10h1v-10zM685 294v4h1v-4zM686 294v7h1v-7zM687 294v4h1v-4zM688 294v7h1v-7zM689 291v4h1v-4zM690 288v7h1v-7zM691 288v7h1v-7zM692 288v7h1v-7zM693 288v7h1v-7zM694 288v7h1v-7zM695 288v7h1v-7zM696 288v7h1v-7zM697 288v7h1v-7zM698 292v9h1v-9zM699 288v10h1v-10zM700 297v10h1v-10zM701 294v7h1v-7zM702 297v10h1v-10zM703 294v10h1v-10zM704 300v7h1v-7zM705 294v7h1v-7zM706 294v7h1v-7zM707 294v7h1v-7zM708 294v7h1v-7zM709 288v7h1v-7zM710 294v7h1v-7zM711 294v4h1v-4zM712 294v7h1v-7zM713 288v7h1v-7zM714 288v7h1v-7zM715 291v4h1v-4zM716 288v4h1v-4zM717 292v6h1v-6zM718 294v7h1v-7zM719 294v4h1v-4zM720 297v4h1v-4zM721 294v3h1v-3zM722 294v7h1v-7zM723 297v10h1v-10zM724 294v7h1v-7zM725 294v3h1v-3zM726 294v7h1v-7zM727 294v3h1v-3zM728 294v1h1v-1zM729 294v1h1v-1zM730 294v7h1v-7zM731 294v3h1v-3zM732 294v10h1v-10zM733 297v10h1v-10zM734 294v4h1v-4zM735 294v7h1v-7zM736 294v7h1v-7zM737 288v7h1v-7zM738 288v1h1v-1zM739 288v7h1v-7zM740 288v7h1v-7zM741 288v7h1v-7zM742 292v6h1v-6zM743 291v10h1v-10zM744 288v7h1v-7zM745 294v7h1v-7zM746 294v4h1v-4zM747 294v7h1v-7zM748 294v1h1v-1zM749 294v7h1v-7zM750 294v7h1v-7zM751 294v7h1v-7zM752 294v7h1v-7zM753 294v4h1v-4zM754 291v10h1v-10zM755 288v7h1v-7zM756 294v10h1v-10zM757 297v10h1v-10zM758 294v7h1v-7zM759 294v7h1v-7zM760 288v7h1v-7zM761 291v4h1v-4zM762 288v16h1v-16zM763 297v10h1v-10zM764 288v9h1v-9zM765 288v13h1v-13zM766 288v7h1v-7zM767 288v7h1v-7zM768 294v7h1v-7zM769 288v13h1v-13zM770 288v9h1v-9zM771 288v7h1v-7zM772 288v7h1v-7zM773 288v7h1v-7zM774 288v7h1v-7zM775 288v7h1v-7zM776 288v7h1v-7zM777 288v10h1v-10zM778 294v7h1v-7zM779 288v7h1v-7zM780 288v7h1v-7zM781 288v7h1v-7zM782 288v7h1v-7zM783 288v10h1v-10zM784 294v13h1v-13zM785 288v7h1v-7zM786 288v13h1v-13zM787 276v14h1v-14zM788 290v5h1v-5zM789 288v7h1v-7z"/>
<path fill="#00ff00" d="M71 255v1h1v-1zM72 255v1h1v-1zM73 255v1h1v-1zM74 255v1h1v-1zM75 255v1h1v-1zM76 255v1h1v-1zM77 255v1h1v-1zM78 255v1h1v-1zM79 255v1h1v-1zM80 255v1h1v-1zM81 255v1h1v-1zM82 255v2h1v-2zM83 257v2h1v-2zM84 258v1h1v-1zM85 258v1h1v-1zM86 258v1h1v-1zM87 258v1h1v-1zM88 258v1h1v-1zM89 258v1h1v-1zM90 258v1h1v-1zM91 258v1h1v-1zM92 258v1h1v-1zM93 258v1h1v-1zM94 257v2h1v-2zM95 255v2h1v-2zM96 255v2h1v-2zM97 257v2h1v-2zM98 257v2h1v-2zM99 255v2h1v-2zM100 257v2h1v-2zM101 257v2h1v-2zM102 255v2h1v-2zM103 255v1h1v-1zM104 255v1h1v-1zM105 255v1h1v-1zM106 255v1h1v-1zM107 255v1h1v-1zM108 255v1h1v-1zM109 255v1h1v-1zM110 255v1h1v-1zM111 255v1h1v-1zM112 255v1h1v-1zM113 255v1h1v-1zM114 255v1h1v-1zM115 255v1h1v-1zM116 255v1h1v-1zM117 255v1h1v-1zM118 255v1h1v-1zM119 255v1h1v-1zM120 255v1h1v-1zM121 255v1h1v-1zM122 255v1h1v-1zM123 255v1h1v-1zM124 255v1h1v-1zM125 255v1h1v-1zM126 255v1h1v-1zM127 255v2h1v-2zM128 257v2h1v-2zM129 258v1h1v-1zM130 258v1h1v-1zM131 258v1h1v-1zM132 257v2h1v-2zM133 255v2h1v-2zM134 257v2h1v-2zM135 258v1h1v-1zM136 258v1h1v-1zM137 257v2h1v-2zM138 255v2h1v-2zM139 255v1h1v-1zM140 255v1h1v-1zM141 255v1h1v-1zM142 255v1h1v-1zM143 255v1h1v-1zM144 255v1h1v-1zM145 255v1h1v-1zM146 255v1h1v-1zM147 255v1h1v-1zM148 255v1h1v-1zM149 255v1h1v-1zM150 255v1h1v-1zM151 255v1h1v-1zM152 255v1h1v-1zM153 255v1h1v-1zM154 255v1h1v-1zM155 255v1h1v-1zM156 255v1h1v-1zM157 255v1h1v-1zM158 255v1h1v-1zM159 255v1h1v-1zM160 255v1h1v-1zM161 255v1h1v-1zM162 255v1h1v-1zM163 255v1h1v-1zM164 255v2h1v-2zM165 255v4h1v-4zM166 255v2h1v-2zM167 255v1h1v-1zM168 255v1h1v-1zM169 255v1h1v-1zM170 255v1h1v-1zM171 255v1h1v-1zM172 255v1h1v-1zM173 255v1h1v-1zM174 255v1h1v-1zM175 255v1h1v-1zM176 255v1h1v-1zM177 255v1h1v-1zM178 255v1h1v-1zM179 255v1h1v-1zM180 255v1h1v-1zM181 255v1h1v-1zM182 255v1h1v-1zM183 255v1h1v-1zM184 255v1h1v-1zM185 255v1h1v-1zM186 255v1h1v-1zM187 255v1h1v-1zM188 255v1h1v-1zM189 255v1h1v-1zM190 255v1h1v-1zM191 255v1h1v-1zM192 255v1h1v-1zM193 255v1h1v-1zM194 255v1h1v-1zM195 255v1h1v-1zM196 255v1h1v-1zM197 255v1h1v-1zM198 255v1h1v-1zM199 255v1h1v-1zM200 255v1h1v-1zM201 255v2h1v-2zM202 255v4h1v-4zM203 255v4h1v-4zM204 255v2h1v-2zM205 255v1h1v-1zM206 255v1h1v-1zM207 255v1h1v-1zM208 255v1h1v-1zM209 255v1h1v-1zM210 255v1h1v-1zM211 255v1h1v-1zM212 255v1h1v-1zM213 255v1h1v-1zM214 255v1h1v-1zM215 255v1h1v-1zM216 255v1h1v-1zM217 255v1h1v-1zM218 255v1h1v-1zM219 255v1h1v-1zM220 255v1h1v-1zM221 255v1h1v-1zM222 255v1h1v-1zM223 255v1h1v-1zM224 255v1h1v-1zM225 255v1h1v-1zM226 255v1h1v-1zM227 255v1h1v-1zM228 255v1h1v-1zM229 255v1h1v-1zM230 255v1h1v-1zM231 255v1h1v-1zM232 255v1h1v-1zM233 255v1h1v-1zM234 255v1h1v-1zM235 255v1h1v-1zM236 255v1h1v-1zM237 255v1h1v-1zM238 255v1h1v-1zM239 255v1h1v-1zM240 255v1h1v-1zM241 255v1h1v-1zM242 255v1h1v-1zM243 255v1h1v-1zM244 255v1h1v-1zM245 255v1h1v-1zM246 255v1h1v-1zM247 255v1h1v-1zM248 255v1h1v-1zM249 255v1h1v-1zM250 255v1h1v-1zM251 254v2h1v-2zM252 252v4h1v-4zM253 254v2h1v-2zM254 255v1h1v-1zM255 255v1h1v-1zM256 255v1h1v-1zM257 255v1h1v-1zM258 255v1h1v-1zM259 255v1h1v-1zM260 255v1h1v-1zM261 255v1h1v-1zM262 255v1h1v-1zM263 255v1h1v-1zM264 255v1h1v-1zM265 255v1h1v-1zM266 255v1h1v-1zM267 255v1h1v-1zM268 255v1h1v-1zM269 255v1h1v-1zM270 255v1h1v-1zM271 255v1h1v-1zM272 255v1h1v-1zM273 255v1h1v-1zM274 255v1h1v-1zM275 255v1h1v-1zM276 255v1h1v-1zM277 255v1h1v-1zM278 255v1h1v-1zM279 255v1h1v-1zM280 255v1h1v-1zM281 255v1h1v-1zM282 255v1h1v-1zM283 255v1h1v-1zM284 255v1h1v-1zM285 255v1h1v-1zM286 255v1h1v-1zM287 255v1h1v-1zM288 255v1h1v-1zM289 255v1h1v-1zM290 255v1h1v-1zM291 255v1h1v-1zM292 255v1h1v-1zM293 255v1h1v-1zM294 255v1h1v-1zM295 255v1h1v-1zM296 255v1h1v-1zM297 254v2h1v-2zM298 252v2h1v-2zM299 252v1h1v-1zM300 252v1h1v-1zM301 252v1h1v-1zM302 252v1h1v-1zM303 252v1h1v-1zM304 252v1h1v-1zM305 252v1h1v-1zM306 252v1h1v-1zM307 252v2h1v-2zM308 254v2h1v-2zM309 255v1h1v-1zM310 255v1h1v-1zM311 255v1h1v-1zM312 255v1h1v-1zM313 255v1h1v-1zM314 255v1h1v-1zM315 255v1h1v-1zM316 255v1h1v-1zM317 255v1h1v-1zM318 255v1h1v-1zM319 255v1h1v-1zM320 255v1h1v-1zM321 255v1h1v-1zM322 255v1h1v-1zM323 255v1h1v-1zM324 255v1h1v-1zM325 255v1h1v-1zM326 255v1h1v-1zM327 255v1h1v-1zM328 255v1h1v-1zM329 255v1h1v-1zM330 255v1h1v-1zM331 255v1h1v-1zM332 255v1h1v-1zM333 255v1h1v-1zM334 255v1h1v-1zM335 255v1h1v-1zM336 255v1h1v-1zM337 255v1h1v-1zM338 255v1h1v-1zM339 255v1h1v-1zM340 255v1h1v-1zM341 255v1h1v-1zM342 255v1h1v-1zM343 255v1h1v-1zM344 255v1h1v-1zM345 255v1h1v-1zM346 255v1h1v-1zM347 255v1h1v-1zM348 255v1h1v-1zM349 255v1h1v-1zM350 255v1h1v-1zM351 255v1h1v-1zM352 255v1h1v-1zM353 254v2h1v-2zM354 252v4h1v-4zM355 254v2h1v-2zM356 255v1h1v-1zM357 255v1h1v-1zM358 255v1h1v-1zM359 255v1h1v-1zM360 255v1h1v-1zM361 255v1h1v-1zM362 255v1h1v-1zM363 255v1h1v-1zM364 255v1h1v-1zM365 255v1h1v-1zM366 255v1h1v-1zM367 255v1h1v-1zM368 255v1h1v-1zM369 255v1h1v-1zM370 255v1h1v-1zM371 255v1h1v-1zM372 255v1h1v-1zM373 255v1h1v-1zM374 255v1h1v-1zM375 255v1h1v-1zM376 255v1h1v-1zM377 255v1h1v-1zM378 255v1h1v-1zM379 255v1h1v-1zM380 255v1h1v-1zM381 255v1h1v-1zM382 255v1h1v-1zM383 255v1h1v-1zM384 255v1h1v-1zM385 255v1h1v-1zM386 255v1h1v-1zM387 255v1h1v-1zM388 255v1h1v-1zM389 255v1h1v-1zM390 255v1h1v-1zM391 255v1h1v-1zM392 255v1h1v-1zM393 255v1h1v-1zM394 255v1h1v-1zM395 255v1h1v-1zM396 255v1h1v-1zM397 255v1h1v-1zM398 255v1h1v-1zM399 254v2h1v-2zM400 252v2h1v-2zM401 253v2h1v-2zM402 252v1h1v-1zM403 252v2h1v-2zM404 254v2h1v-2zM405 255v1h1v-1zM406 255v1h1v-1zM407 255v1h1v-1zM408 255v1h1v-1zM409 255v2h1v-2zM410 255v4h1v-4zM411 255v2h1v-2zM412 255v1h1v-1zM413 255v1h1v-1zM414 255v1h1v-1zM415 255v1h1v-1zM416 255v1h1v-1zM417 255v1h1v-1zM418 255v1h1v-1zM419 255v1h1v-1zM420 255v1h1v-1zM421 255v1h1v-1zM422 255v1h1v-1zM423 255v1h1v-1zM424 255v1h1v-1zM425 255v1h1v-1zM426 255v1h1v-1zM427 255v1h1v-1zM428 255v1h1v-1zM429 255v1h1v-1zM430 255v1h1v-1zM431 255v1h1v-1zM432 255v1h1v-1zM433 255v1h1v-1zM434 255v1h1v-1zM435 255v1h1v-1zM436 255v1h1v-1zM437 255v1h1v-1zM438 255v1h1v-1zM439 254v2h1v-2zM440 252v2h1v-2zM441 254v2h1v-2zM442 252v2h1v-2zM443 252v2h1v-2zM444 254v2h1v-2zM445 255v1h1v-1zM446 255v1h1v-1zM447 255v1h1v-1zM448 255v1h1v-1zM449 255v1h1v-1zM450 255v1h1v-1zM451 255v1h1v-1zM452 255v1h1v-1zM453 255v1h1v-1zM454 255v1h1v-1zM455 255v1h1v-1zM456 255v1h1v-1zM457 255v1h1v-1zM458 255v1h1v-1zM459 254v2h1v-2zM460 252v2h1v-2zM461 252v1h1v-1zM462 252v2h1v-2zM463 254v2h1v-2zM464 252v2h1v-2zM465 252v2h1v-2zM466 254v2h1v-2zM467 252v2h1v-2zM468 252v1h1v-1zM469 252v1h1v-1zM470 252v1h1v-1zM471 252v2h1v-2zM472 254v2h1v-2zM473 255v1h1v-1zM474 255v1h1v-1zM475 255v1h1v-1zM476 255v1h1v-1zM477 255v1h1v-1zM478 255v1h1v-1zM479 255v1h1v-1zM480 255v1h1v-1zM481 255v1h1v-1zM482 255v1h1v-1zM483 255v1h1v-1zM484 255v1h1v-1zM485 255v1h1v-1zM486 255v1h1v-1zM487 255v1h1v-1zM488 255v1h1v-1zM489 255v1h1v-1zM490 255v1h1v-1zM491 255v1h1v-1zM492 255v1h1v-1zM493 255v1h1v-1zM494 255v1h1v-1zM495 255v1h1v-1zM496 255v1h1v-1zM497 255v1h1v-1zM498 255v1h1v-1zM499 255v1h1v-1zM500 255v1h1v-1zM501 255v1h1v-1zM502 255v1h1v-1zM503 255v1h1v-1zM504 255v1h1v-1zM505 255v1h1v-1zM506 255v1h1v-1zM507 255v1h1v-1zM508 255v1h1v-1zM509 255v1h1v-1zM510 255v1h1v-1zM511 255v1h1v-1zM512 255v1h1v-1zM513 255v1h1v-1zM514 255v1h1v-1zM515 255v1h1v-1zM516 255v1h1v-1zM517 255v1h1v-1zM518 254v2h1v-2zM519 252v2h1v-2zM520 252v1h1v-1zM521 252v1h1v-1zM522 252v2h1v-2zM523 254v2h1v-2zM524 255v1h1v-1zM525 255v1h1v-1zM526 255v1h1v-1zM527 255v1h1v-1zM528 255v1h1v-1zM529 255v1h1v-1zM530 255v1h1v-1zM531 255v1h1v-1zM532 255v1h1v-1zM533 255v1h1v-1zM534 255v1h1v-1zM535 255v1h1v-1zM536 255v1h1v-1zM537 255v1h1v-1zM538 255v1h1v-1zM539 255v1h1v-1zM540 255v1h1v-1zM541 255v1h1v-1zM542 255v1h1v-1zM543 255v1h1v-1zM544 255v1h1v-1zM545 255v1h1v-1zM546 255v1h1v-1zM547 255v1h1v-1zM548 255v1h1v-1zM549 255v1h1v-1zM550 255v1h1v-1zM551 255v1h1v-1zM552 255v1h1v-1zM553 255v1h1v-1zM554 255v1h1v-1zM555 255v1h1v-1zM556 255v1h1v-1zM557 255v1h1v-1zM558 255v1h1v-1zM559 255v1h1v-1zM560 255v1h1v-1zM561 255v1h1v-1zM562 255v1h1v-1zM563 255v1h1v-1zM564 255v1h1v-1zM565 255v1h1v-1zM566 255v1h1v-1zM567 255v1h1v-1zM568 255v1h1v-1zM569 255v1h1v-1zM570 255v1h1v-1zM571 255v1h1v-1zM572 255v1h1v-1zM573 255v1h1v-1zM574 255v1h1v-1zM575 255v1h1v-1zM576 255v1h1v-1zM577 255v1h1v-1zM578 255v1h1v-1zM579 255v1h1v-1zM580 255v1h1v-1zM581 254v2h1v-2zM582 252v2h1v-2zM583 252v1h1v-1zM584 252v1h1v-1zM585 252v1h1v-1zM586 252v1h1v-1zM587 252v1h1v-1zM588 252v2h1v-2zM589 254v2h1v-2zM590 255v1h1v-1zM591 255v1h1v-1zM592 255v1h1v-1zM593 255v1h1v-1zM594 255v1h1v-1zM595 255v1h1v-1zM596 255v1h1v-1zM597 255v1h1v-1zM598 255v1h1v-1zM599 255v1h1v-1zM600 255v1h1v-1zM601 255v1h1v-1zM602 255v1h1v-1zM603 255v1h1v-1zM604 255v1h1v-1zM605 255v1h1v-1zM606 255v1h1v-1zM607 255v1h1v-1zM608 255v1h1v-1zM609 255v1h1v-1zM610 255v1h1v-1zM611 254v2h1v-2zM612 252v2h1v-2zM613 252v1h1v-1zM614 252v1h1v-1zM615 252v1h1v-1zM616 252v2h1v-2zM617 254v2h1v-2zM618 255v1h1v-1zM619 255v1h1v-1zM620 255v1h1v-1zM621 255v1h1v-1zM622 255v1h1v-1zM623 255v1h1v-1zM624 255v1h1v-1zM625 255v1h1v-1zM626 255v1h1v-1zM627 255v1h1v-1zM628 255v1h1v-1zM629 255v1h1v-1zM630 255v1h1v-1zM631 255v1h1v-1zM632 255v2h1v-2zM633 257v2h1v-2zM634 257v2h1v-2zM635 255v2h1v-2zM636 257v2h1v-2zM637 257v2h1v-2zM638 255v2h1v-2zM639 255v1h1v-1zM640 255v1h1v-1zM641 255v1h1v-1zM642 255v1h1v-1zM643 255v1h1v-1zM644 255v1h1v-1zM645 255v1h1v-1zM646 255v1h1v-1zM647 255v1h1v-1zM648 255v1h1v-1zM649 255v1h1v-1zM650 255v1h1v-1zM651 255v1h1v-1zM652 255v1h1v-1zM653 255v1h1v-1zM654 255v1h1v-1zM655 255v1h1v-1zM656 255v1h1v-1zM657 255v1h1v-1zM658 255v1h1v-1zM659 255v1h1v-1zM660 255v1h1v-1zM661 255v1h1v-1zM662 255v1h1v-1zM663 255v1h1v-1zM664 255v1h1v-1zM665 255v1h1v-1zM666 255v1h1v-1zM667 255v1h1v-1zM668 255v1h1v-1zM669 255v1h1v-1zM670 255v1h1v-1zM671 255v1h1v-1zM672 255v1h1v-1zM673 255v1h1v-1zM674 255v1h1v-1zM675 255v1h1v-1zM676 255v1h1v-1zM677 255v1h1v-1zM678 255v1h1v-1zM679 255v1h1v-1zM680 255v1h1v-1zM681 255v1h1v-1zM682 255v1h1v-1zM683 255v1h1v-1zM684 255v1h1v-1zM685 255v2h1v-2zM686 257v2h1v-2zM687 258v1h1v-1zM688 258v1h1v-1zM689 258v1h1v-1zM690 258v1h1v-1zM691 258v1h1v-1zM692 258v1h1v-1zM693 258v1h1v-1zM694 257v2h1v-2zM695 255v2h1v-2zM696 255v2h1v-2zM697 257v2h1v-2zM698 258v1h1v-1zM699 258v1h1v-1zM700 258v1h1v-1zM701 258v1h1v-1zM702 258v1h1v-1zM703 258v1h1v-1zM704 258v1h1v-1zM705 257v2h1v-2zM706 255v4h1v-4zM707 255v4h1v-4zM708 255v4h1v-4zM709 255v4h1v-4zM710 255v4h1v-4zM711 255v2h1v-2zM712 257v2h1v-2zM713 258v1h1v-1zM714 258v1h1v-1zM715 258v1h1v-1zM716 257v2h1v-2zM717 255v2h1v-2zM718 255v1h1v-1zM719 255v1h1v-1zM720 255v1h1v-1zM721 255v1h1v-1zM722 255v1h1v-1zM723 255v1h1v-1zM724 255v1h1v-1zM725 255v1h1v-1zM726 255v1h1v-1zM727 255v1h1v-1zM728 255v1h1v-1zM729 255v1h1v-1zM730 255v1h1v-1zM731 255v1h1v-1zM732 255v1h1v-1zM733 255v1h1v-1zM734 255v1h1v-1zM735 255v1h1v-1zM736 255v1h1v-1zM737 255v1h1v-1zM738 255v1h1v-1zM739 255v1h1v-1zM740 255v1h1v-1zM741 255v1h1v-1zM742 255v1h1v-1zM743 255v1h1v-1zM744 255v1h1v-1zM745 255v1h1v-1zM746 255v1h1v-1zM747 255v1h1v-1zM748 255v1h1v-1zM749 255v1h1v-1zM750 255v1h1v-1zM751 255v2h1v-2zM752 255v4h1v-4zM753 255v2h1v-2zM754 255v1h1v-1zM755 255v1h1v-1zM756 255v1h1v-1zM757 255v1h1v-1zM758 255v1h1v-1zM759 255v1h1v-1zM760 255v1h1v-1zM761 255v1h1v-1zM762 255v1h1v-1zM763 255v1h1v-1zM764 255v1h1v-1zM765 255v1h1v-1zM766 255v1h1v-1zM767 255v1h1v-1zM768 255v1h1v-1zM769 255v1h1v-1zM770 255v1h1v-1zM771 255v1h1v-1zM772 255v1h1v-1zM773 255v1h1v-1zM774 255v1h1v-1zM775 255v1h1v-1zM776 255v1h1v-1zM777 255v1h1v-1zM778 255v1h1v-1zM779 255v1h1v-1zM780 255v1h1v-1zM781 255v1h1v-1zM782 255v1h1v-1zM783 255v1h1v-1zM784 255v1h1v-1zM785 255v1h1v-1zM786 255v1h1v-1zM787 255v1h1v-1zM788 255v1h1v-1zM789 255v1h1v-1z"/>
<path fill="#d02864" d="M71 180h719v1h-719z"/>
<path fill="#800090" d="M71 187h719v1h-719z"/>
<path fill="#ffff00" d="M71 300h719v1h-719zM71 349h719v1h-719z"/>
<path fill="#6b9a10" d="M71 357h719v1h-719z"/>
<g shape-rendering="auto">
<text class="b" x="69.5" y="23" textLength="553" lengthAdjust="spacingAndGlyphs">Signál a šum radia nev_rekova_ac od: 9.12.2025 19:05:00 do: 10.12.2025 19:04:00</text>
<text class="s" x="18.5 24.5 30.5" y="36" text-anchor="middle" stroke="#000">-<tspan class="d">45</tspan></text>
<text class="s" x="17.5 23.5 29.5 35.5 41.5 47.5 53.5 59.5 65.5" y="40.5" text-anchor="middle" stroke="#000">[dBm] [%]</text>
<text class="s" x="53.5 59.5 65.5" y="325.7" text-anchor="middle" fill="#ee82ee" stroke="#ee82ee"><tspan class="d">39</tspan>M</text>
<text class="s" x="53.5 59.5 65.5" y="353" text-anchor="middle" fill="#ee82ee" stroke="#ee82ee"><tspan class="d">13</tspan>M</text>
<text class="s" x="53.5 59.5" y="360" text-anchor="middle" fill="#800090" stroke="#800090"><tspan class="d">6</tspan>M</text>
<text class="s" x="95.5 101.5" y="381" text-anchor="middle" stroke="#000"><tspan class="d">20</tspan></text>
<text class="s" x="125.5 131.5" y="381" text-anchor="middle" stroke="#000"><tspan class="d">21</tspan></text>
<text class="s" x="155.5 161.5" y="381" text-anchor="middle" stroke="#000"><tspan class="d">22</tspan></text>
<text class="s" x="185.5 191.5" y="381" text-anchor="middle" stroke="#000"><tspan class="d">23</tspan></text>
<text class="s" x="215.5 221.5" y="381" text-anchor="middle" stroke="#000"><tspan class="d">00</tspan></text>
<text class="s" x="245.5 251.5" y="381" text-anchor="middle" stroke="#000"><tspan class="d">01</tspan></text>
<text class="s" x="275.5 281.5" y="381" text-anchor="middle" stroke="#000"><tspan class="d">02</tspan></text>
<text class="s" x="305.5 311.5" y="381" text-anchor="middle" stroke="#000"><tspan class="d">03</tspan></text>
<text class="s" x="335.5 341.5" y="381" text-anchor="middle" stroke="#000"><tspan class="d">04</tspan></text>
<text class="s" x="365.5 371.5" y="381" text-anchor="middle" stroke="#000"><tspan class="d">05</tspan></text>
<text class="s" x="395.5 401.5" y="381" text-anchor="middle" stroke="#000"><tspan class="d">06</tspan></text>
<text class="s" x="425.5 431.5" y="381" text-anchor="middle" stroke="#000"><tspan class="d">07</tspan></text>
<text class="s" x="455.5 461.5" y="381" text-anchor="middle" stroke="#000"><tspan class="d">08</tspan></text>
<text class="s" x="485.5 491.5" y="381" text-anchor="middle" stroke="#000"><tspan class="d">09</tspan></text>
<text class="s" x="515.5 521.5" y="381" text-anchor="middle" stroke="#000"><tspan class="d">10</tspan></text>
<text class="s" x="545.5 551.5" y="381" text-anchor="middle" stroke="#000"><tspan class="d">11</tspan></text>
<text class="s" x="575.5 581.5" y="381" text-anchor="middle" stroke="#000"><tspan class="d">12</tspan></text>
<text class="s" x="605.5 611.5" y="381" text-anchor="middle" stroke="#000"><tspan class="d">13</tspan></text>
<text class="s" x="635.5 641.5" y="381" text-anchor="middle" stroke="#000"><tspan class="d">14</tspan></text>
<text class="s" x="665.5 671.5" y="381" text-anchor="middle" stroke="#000"><tspan class="d">15</tspan></text>
<text class="s" x="695.5 701.5" y="381" text-anchor="middle" stroke="#000"><tspan class="d">16</tspan></text>
<text class="s" x="725.5 731.5" y="381" text-anchor="middle" stroke="#000"><tspan class="d">17</tspan></text>
<text class="s" x="755.5 761.5" y="381" text-anchor="middle" stroke="#000"><tspan class="d">18</tspan></text>
<text class="s" x="785.5 791.5" y="381" text-anchor="middle" stroke="#000"><tspan class="d">19</tspan></text>
<text class="s" x="772.5 778.5 784.5" y="390.5" text-anchor="middle" stroke="#000">[h]</text>
<text class="b" x="14.5" y="391" textLength="105" lengthAdjust="spacingAndGlyphs" fill="#00ff00">CINR: nyní 35 %</text>
<text class="b" x="14.5" y="407" textLength="140" lengthAdjust="spacingAndGlyphs" fill="#ff0000">Signál: nyní -37 dBm</text>
<text class="b" x="14.5" y="426" textLength="119" lengthAdjust="spacingAndGlyphs" fill="#0000ff">Šum: nyní -89 dBm</text>
<text class="b" x="239.5" y="396" textLength="70" lengthAdjust="spacingAndGlyphs" fill="#ffff00">ETH Plug 1</text>
<text class="b" x="239.5" y="411" textLength="91" lengthAdjust="spacingAndGlyphs" fill="#ffff00">ETH Speed 100</text>
<text class="b" x="349.5" y="391" textLength="91" lengthAdjust="spacingAndGlyphs" fill="#000">TxPower 9 dBm</text>
<text class="b" x="349.5" y="406" textLength="91" lengthAdjust="spacingAndGlyphs" fill="#6b9a10">Connections 1</text>
<text class="b" x="349.5" y="421" textLength="91" lengthAdjust="spacingAndGlyphs" fill="#d02864">Freq 5660 MHz</text>
<text class="b" x="469.5" y="391" textLength="84" lengthAdjust="spacingAndGlyphs" fill="#64b0ff">CPU load 4 %</text>
<text class="b" x="469.5" y="406" textLength="91" lengthAdjust="spacingAndGlyphs" fill="#ee82ee">Txrate: 173 M</text>
<text class="b" x="469.5" y="421" textLength="91" lengthAdjust="spacingAndGlyphs" fill="#800090">Rxrate: 173 M</text>
<text class="b" x="569.5" y="391" textLength="77" lengthAdjust="spacingAndGlyphs" fill="#00ced1">Airtime 0 %</text>
<text class="b" x="569.5" y="406" textLength="147" lengthAdjust="spacingAndGlyphs" fill="#ff7f00">Chain0 signal -39 dBm</text>
<text class="b" x="569.5" y="421" textLength="147" lengthAdjust="spacingAndGlyphs" fill="#ffb27a">Chain1 signal -41 dBm</text>
</g>
</svg>
</body>
</html>
